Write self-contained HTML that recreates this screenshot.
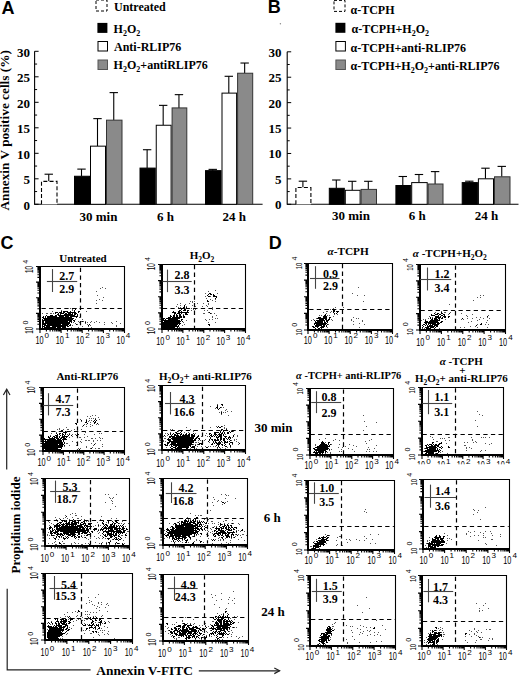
<!DOCTYPE html>
<html><head><meta charset="utf-8"><style>
html,body{margin:0;padding:0;background:#fff;width:520px;height:676px;overflow:hidden}
svg{display:block}
</style></head><body><svg width="520" height="676" viewBox="0 0 520 676"><text x="1.5" y="14.3" font-family="'Liberation Sans', sans-serif" font-size="18" font-weight="bold" text-anchor="start" fill="#000" >A</text><text x="267.8" y="13.2" font-family="'Liberation Sans', sans-serif" font-size="18" font-weight="bold" text-anchor="start" fill="#000" >B</text><text x="0.5" y="249.2" font-family="'Liberation Sans', sans-serif" font-size="18" font-weight="bold" text-anchor="start" fill="#000" >C</text><text x="268.8" y="249.2" font-family="'Liberation Sans', sans-serif" font-size="18" font-weight="bold" text-anchor="start" fill="#000" >D</text><line x1="34.60" y1="51.30" x2="34.60" y2="204.80" stroke="#000" stroke-width="1.1" /><line x1="34.60" y1="204.30" x2="262.60" y2="204.30" stroke="#000" stroke-width="1.1" /><line x1="34.60" y1="204.30" x2="38.60" y2="204.30" stroke="#000" stroke-width="1" /><text x="29.9" y="209.8" font-family="'Liberation Serif', serif" font-size="13" font-weight="bold" text-anchor="end" fill="#000" >0</text><line x1="34.60" y1="191.55" x2="37.10" y2="191.55" stroke="#000" stroke-width="1" /><line x1="34.60" y1="178.80" x2="38.60" y2="178.80" stroke="#000" stroke-width="1" /><text x="29.9" y="184.3" font-family="'Liberation Serif', serif" font-size="13" font-weight="bold" text-anchor="end" fill="#000" >5</text><line x1="34.60" y1="166.05" x2="37.10" y2="166.05" stroke="#000" stroke-width="1" /><line x1="34.60" y1="153.30" x2="38.60" y2="153.30" stroke="#000" stroke-width="1" /><text x="29.9" y="158.8" font-family="'Liberation Serif', serif" font-size="13" font-weight="bold" text-anchor="end" fill="#000" >10</text><line x1="34.60" y1="140.55" x2="37.10" y2="140.55" stroke="#000" stroke-width="1" /><line x1="34.60" y1="127.80" x2="38.60" y2="127.80" stroke="#000" stroke-width="1" /><text x="29.9" y="133.3" font-family="'Liberation Serif', serif" font-size="13" font-weight="bold" text-anchor="end" fill="#000" >15</text><line x1="34.60" y1="115.05" x2="37.10" y2="115.05" stroke="#000" stroke-width="1" /><line x1="34.60" y1="102.30" x2="38.60" y2="102.30" stroke="#000" stroke-width="1" /><text x="29.9" y="107.80000000000001" font-family="'Liberation Serif', serif" font-size="13" font-weight="bold" text-anchor="end" fill="#000" >20</text><line x1="34.60" y1="89.55" x2="37.10" y2="89.55" stroke="#000" stroke-width="1" /><line x1="34.60" y1="76.80" x2="38.60" y2="76.80" stroke="#000" stroke-width="1" /><text x="29.9" y="82.30000000000001" font-family="'Liberation Serif', serif" font-size="13" font-weight="bold" text-anchor="end" fill="#000" >25</text><line x1="34.60" y1="64.05" x2="37.10" y2="64.05" stroke="#000" stroke-width="1" /><line x1="34.60" y1="51.30" x2="38.60" y2="51.30" stroke="#000" stroke-width="1" /><text x="29.9" y="56.80000000000001" font-family="'Liberation Serif', serif" font-size="13" font-weight="bold" text-anchor="end" fill="#000" >30</text><line x1="48.75" y1="174.21" x2="48.75" y2="181.35" stroke="#000" stroke-width="1.1" /><line x1="44.55" y1="174.21" x2="52.95" y2="174.21" stroke="#000" stroke-width="1.1" /><path d="M41.50 204.30V181.35H57.00V204.30" fill="#fff" stroke="#000" stroke-width="1.1" stroke-dasharray="4 2.2"/><line x1="81.50" y1="169.11" x2="81.50" y2="176.25" stroke="#000" stroke-width="1.1" /><line x1="77.30" y1="169.11" x2="85.70" y2="169.11" stroke="#000" stroke-width="1.1" /><rect x="74.50" y="176.25" width="15.00" height="28.05" fill="#000" stroke="#000" stroke-width="1"/><line x1="97.50" y1="118.62" x2="97.50" y2="146.16" stroke="#000" stroke-width="1.1" /><line x1="93.30" y1="118.62" x2="101.70" y2="118.62" stroke="#000" stroke-width="1.1" /><rect x="90.50" y="146.16" width="15.00" height="58.14" fill="#fff" stroke="#000" stroke-width="1"/><line x1="113.75" y1="92.61" x2="113.75" y2="120.15" stroke="#000" stroke-width="1.1" /><line x1="109.55" y1="92.61" x2="117.95" y2="92.61" stroke="#000" stroke-width="1.1" /><rect x="106.50" y="120.15" width="15.50" height="84.15" fill="#8a8a8a" stroke="#333" stroke-width="1"/><line x1="147.12" y1="149.73" x2="147.12" y2="168.09" stroke="#000" stroke-width="1.1" /><line x1="142.93" y1="149.73" x2="151.32" y2="149.73" stroke="#000" stroke-width="1.1" /><rect x="140.00" y="168.09" width="15.25" height="36.21" fill="#000" stroke="#000" stroke-width="1"/><line x1="163.18" y1="105.36" x2="163.18" y2="125.25" stroke="#000" stroke-width="1.1" /><line x1="158.98" y1="105.36" x2="167.38" y2="105.36" stroke="#000" stroke-width="1.1" /><rect x="156.25" y="125.25" width="14.85" height="79.05" fill="#fff" stroke="#000" stroke-width="1"/><line x1="178.95" y1="94.65" x2="178.95" y2="107.91" stroke="#000" stroke-width="1.1" /><line x1="174.75" y1="94.65" x2="183.15" y2="94.65" stroke="#000" stroke-width="1.1" /><rect x="172.10" y="107.91" width="14.70" height="96.39" fill="#8a8a8a" stroke="#333" stroke-width="1"/><line x1="212.75" y1="169.37" x2="212.75" y2="170.64" stroke="#000" stroke-width="1.1" /><line x1="208.55" y1="169.37" x2="216.95" y2="169.37" stroke="#000" stroke-width="1.1" /><rect x="205.50" y="170.64" width="15.50" height="33.66" fill="#000" stroke="#000" stroke-width="1"/><line x1="228.80" y1="76.29" x2="228.80" y2="93.12" stroke="#000" stroke-width="1.1" /><line x1="224.60" y1="76.29" x2="233.00" y2="76.29" stroke="#000" stroke-width="1.1" /><rect x="222.00" y="93.12" width="14.60" height="111.18" fill="#fff" stroke="#000" stroke-width="1"/><line x1="244.65" y1="63.03" x2="244.65" y2="73.23" stroke="#000" stroke-width="1.1" /><line x1="240.45" y1="63.03" x2="248.85" y2="63.03" stroke="#000" stroke-width="1.1" /><rect x="237.60" y="73.23" width="15.10" height="131.07" fill="#8a8a8a" stroke="#333" stroke-width="1"/><text x="98.5" y="221.3" font-family="'Liberation Serif', serif" font-size="13" font-weight="bold" text-anchor="middle" fill="#000" >30 min</text><text x="165.6" y="221.3" font-family="'Liberation Serif', serif" font-size="13" font-weight="bold" text-anchor="middle" fill="#000" >6 h</text><text x="234.3" y="221.3" font-family="'Liberation Serif', serif" font-size="13" font-weight="bold" text-anchor="middle" fill="#000" >24 h</text><rect x="96" y="0" width="11" height="11" fill="#fff" stroke="#000" stroke-width="1" stroke-dasharray="3 2"/><text x="114" y="10.8" font-family="'Liberation Serif', serif" font-size="12" font-weight="bold" text-anchor="start" fill="#000" >Untreated</text><rect x="97.4" y="22.9" width="10" height="10" fill="#000"/><text x="113.6" y="32.7" font-family="'Liberation Serif', serif" font-size="12" font-weight="bold" text-anchor="start" fill="#000" >H<tspan dy="3" font-size="8">2</tspan><tspan dy="-3">O</tspan><tspan dy="3" font-size="8">2</tspan></text><rect x="98.0" y="41.5" width="9.5" height="9.5" fill="#fff" stroke="#000" stroke-width="1"/><text x="114" y="50.8" font-family="'Liberation Serif', serif" font-size="12" font-weight="bold" text-anchor="start" fill="#000" >Anti-RLIP76</text><rect x="98.0" y="60.0" width="9.5" height="9.5" fill="#8a8a8a" stroke="#555" stroke-width="1"/><text x="113.6" y="69" font-family="'Liberation Serif', serif" font-size="12" font-weight="bold" text-anchor="start" fill="#000" >H<tspan dy="3" font-size="8">2</tspan><tspan dy="-3">O</tspan><tspan dy="3" font-size="8">2</tspan><tspan dy="-3">+</tspan>antiRLIP76</text><line x1="287.20" y1="51.80" x2="287.20" y2="204.80" stroke="#000" stroke-width="1.1" /><line x1="287.20" y1="204.30" x2="518.50" y2="204.30" stroke="#000" stroke-width="1.1" /><line x1="287.20" y1="204.30" x2="291.20" y2="204.30" stroke="#000" stroke-width="1" /><text x="281.6" y="209.3" font-family="'Liberation Serif', serif" font-size="13" font-weight="bold" text-anchor="end" fill="#000" >0</text><line x1="287.20" y1="191.59" x2="289.70" y2="191.59" stroke="#000" stroke-width="1" /><line x1="287.20" y1="178.88" x2="291.20" y2="178.88" stroke="#000" stroke-width="1" /><text x="281.6" y="183.88333333333335" font-family="'Liberation Serif', serif" font-size="13" font-weight="bold" text-anchor="end" fill="#000" >5</text><line x1="287.20" y1="166.18" x2="289.70" y2="166.18" stroke="#000" stroke-width="1" /><line x1="287.20" y1="153.47" x2="291.20" y2="153.47" stroke="#000" stroke-width="1" /><text x="281.6" y="158.46666666666667" font-family="'Liberation Serif', serif" font-size="13" font-weight="bold" text-anchor="end" fill="#000" >10</text><line x1="287.20" y1="140.76" x2="289.70" y2="140.76" stroke="#000" stroke-width="1" /><line x1="287.20" y1="128.05" x2="291.20" y2="128.05" stroke="#000" stroke-width="1" /><text x="281.6" y="133.05" font-family="'Liberation Serif', serif" font-size="13" font-weight="bold" text-anchor="end" fill="#000" >15</text><line x1="287.20" y1="115.34" x2="289.70" y2="115.34" stroke="#000" stroke-width="1" /><line x1="287.20" y1="102.63" x2="291.20" y2="102.63" stroke="#000" stroke-width="1" /><text x="281.6" y="107.63333333333334" font-family="'Liberation Serif', serif" font-size="13" font-weight="bold" text-anchor="end" fill="#000" >20</text><line x1="287.20" y1="89.93" x2="289.70" y2="89.93" stroke="#000" stroke-width="1" /><line x1="287.20" y1="77.22" x2="291.20" y2="77.22" stroke="#000" stroke-width="1" /><text x="281.6" y="82.21666666666668" font-family="'Liberation Serif', serif" font-size="13" font-weight="bold" text-anchor="end" fill="#000" >25</text><line x1="287.20" y1="64.51" x2="289.70" y2="64.51" stroke="#000" stroke-width="1" /><line x1="287.20" y1="51.80" x2="291.20" y2="51.80" stroke="#000" stroke-width="1" /><text x="281.6" y="56.80000000000001" font-family="'Liberation Serif', serif" font-size="13" font-weight="bold" text-anchor="end" fill="#000" >30</text><line x1="302.90" y1="181.20" x2="302.90" y2="187.50" stroke="#000" stroke-width="1.1" /><line x1="298.70" y1="181.20" x2="307.10" y2="181.20" stroke="#000" stroke-width="1.1" /><path d="M295.90 204.30V187.50H310.90V204.30" fill="#fff" stroke="#000" stroke-width="1.1" stroke-dasharray="4 2.2"/><line x1="336.30" y1="180.00" x2="336.30" y2="188.30" stroke="#000" stroke-width="1.1" /><line x1="332.10" y1="180.00" x2="340.50" y2="180.00" stroke="#000" stroke-width="1.1" /><rect x="329.30" y="188.30" width="15.00" height="16.00" fill="#000" stroke="#000" stroke-width="1"/><line x1="352.20" y1="181.30" x2="352.20" y2="190.30" stroke="#000" stroke-width="1.1" /><line x1="348.00" y1="181.30" x2="356.40" y2="181.30" stroke="#000" stroke-width="1.1" /><rect x="345.30" y="190.30" width="14.80" height="14.00" fill="#fff" stroke="#000" stroke-width="1"/><line x1="368.30" y1="181.30" x2="368.30" y2="189.40" stroke="#000" stroke-width="1.1" /><line x1="364.10" y1="181.30" x2="372.50" y2="181.30" stroke="#000" stroke-width="1.1" /><rect x="361.10" y="189.40" width="15.40" height="14.90" fill="#8a8a8a" stroke="#333" stroke-width="1"/><line x1="402.80" y1="176.50" x2="402.80" y2="185.50" stroke="#000" stroke-width="1.1" /><line x1="398.60" y1="176.50" x2="407.00" y2="176.50" stroke="#000" stroke-width="1.1" /><rect x="395.90" y="185.50" width="14.80" height="18.80" fill="#000" stroke="#000" stroke-width="1"/><line x1="418.95" y1="174.50" x2="418.95" y2="182.60" stroke="#000" stroke-width="1.1" /><line x1="414.75" y1="174.50" x2="423.15" y2="174.50" stroke="#000" stroke-width="1.1" /><rect x="411.70" y="182.60" width="15.50" height="21.70" fill="#fff" stroke="#000" stroke-width="1"/><line x1="435.10" y1="171.60" x2="435.10" y2="184.00" stroke="#000" stroke-width="1.1" /><line x1="430.90" y1="171.60" x2="439.30" y2="171.60" stroke="#000" stroke-width="1.1" /><rect x="428.20" y="184.00" width="14.80" height="20.30" fill="#8a8a8a" stroke="#333" stroke-width="1"/><line x1="469.30" y1="181.20" x2="469.30" y2="182.60" stroke="#000" stroke-width="1.1" /><line x1="465.10" y1="181.20" x2="473.50" y2="181.20" stroke="#000" stroke-width="1.1" /><rect x="462.20" y="182.60" width="15.20" height="21.70" fill="#000" stroke="#000" stroke-width="1"/><line x1="485.45" y1="168.20" x2="485.45" y2="178.80" stroke="#000" stroke-width="1.1" /><line x1="481.25" y1="168.20" x2="489.65" y2="168.20" stroke="#000" stroke-width="1.1" /><rect x="478.40" y="178.80" width="15.10" height="25.50" fill="#fff" stroke="#000" stroke-width="1"/><line x1="501.75" y1="166.40" x2="501.75" y2="176.80" stroke="#000" stroke-width="1.1" /><line x1="497.55" y1="166.40" x2="505.95" y2="166.40" stroke="#000" stroke-width="1.1" /><rect x="494.50" y="176.80" width="15.50" height="27.50" fill="#8a8a8a" stroke="#333" stroke-width="1"/><text x="351" y="220.4" font-family="'Liberation Serif', serif" font-size="13" font-weight="bold" text-anchor="middle" fill="#000" >30 min</text><text x="417.3" y="220.4" font-family="'Liberation Serif', serif" font-size="13" font-weight="bold" text-anchor="middle" fill="#000" >6 h</text><text x="486.5" y="220.4" font-family="'Liberation Serif', serif" font-size="13" font-weight="bold" text-anchor="middle" fill="#000" >24 h</text><rect x="334" y="0.4" width="11" height="11" fill="#fff" stroke="#000" stroke-width="1" stroke-dasharray="3 2"/><text x="350.5" y="13.5" font-family="'Liberation Serif', serif" font-size="12" font-weight="bold" text-anchor="start" fill="#000" >α-TCPH</text><rect x="335.4" y="22.8" width="10" height="10" fill="#000"/><text x="351.5" y="32.9" font-family="'Liberation Serif', serif" font-size="12" font-weight="bold" text-anchor="start" fill="#000" >α-TCPH+H<tspan dy="3" font-size="8">2</tspan><tspan dy="-3">O</tspan><tspan dy="3" font-size="8">2</tspan></text><rect x="335.9" y="41.5" width="9.5" height="9.5" fill="#fff" stroke="#000" stroke-width="1"/><text x="350.5" y="51.5" font-family="'Liberation Serif', serif" font-size="12" font-weight="bold" text-anchor="start" fill="#000" >α-TCPH+anti-RLIP76</text><rect x="335.9" y="60.0" width="9.5" height="9.5" fill="#8a8a8a" stroke="#555" stroke-width="1"/><text x="350.5" y="70" font-family="'Liberation Serif', serif" font-size="12" font-weight="bold" text-anchor="start" fill="#000" >α-TCPH+H<tspan dy="3" font-size="8">2</tspan><tspan dy="-3">O</tspan><tspan dy="3" font-size="8">2</tspan><tspan dy="-3">+</tspan>anti-RLIP76</text><circle cx="280.4" cy="23.8" r="0.7" fill="#888"/><path transform="translate(0 .5)" d="M75 309h1M74 310h1M61 311h1M63 311h5M70 311h1M74 311h1M78 311h2M55 312h3M59 312h3M63 312h2M67 312h9M78 312h1M55 313h1M58 313h1M60 313h4M65 313h2M68 313h3M72 313h1M74 313h3M57 314h2M60 314h1M64 314h9M74 314h2M77 314h1M46 315h1M50 315h3M55 315h2M58 315h17M77 315h1M43 316h1M45 316h1M47 316h10M59 316h5M65 316h4M70 316h8M42 317h2M45 317h1M47 317h25M76 317h1M43 318h31M42 319h1M44 319h29M42 320h30M73 320h2M42 321h2M45 321h23M69 321h3M74 321h1M82 321h1M42 322h2M45 322h25M71 322h1M85 322h1M42 323h28M42 324h4M47 324h14M62 324h7M70 324h1M76 324h1M89 324h1M42 325h1M44 325h24M69 325h2M88 325h1M42 326h3M46 326h4M52 326h14M67 326h2M42 327h1M44 327h12M57 327h4M62 327h4" stroke="#000" stroke-width="1" fill="none"/><path transform="translate(0 .5)" d="M102 287h1M100 288h1M105 288h1M96 291h1M97 295h1M103 297h1M99 299h1M96 300h1M102 300h1M96 303h1M70 308h1M76 308h1M72 309h1M61 310h1M72 310h1M52 311h1M86 311h1M42 313h1M46 313h2M50 313h2M53 313h1M79 317h1M75 319h1M82 319h1M78 321h1M81 321h1M83 321h1M85 321h1M91 321h1M96 321h1M116 321h1M73 322h1M79 322h1M87 322h1M90 322h1M94 322h1M99 322h1M104 322h1M111 322h1M75 323h1M85 323h1M112 323h1M120 323h1M77 324h1M87 324h1M104 324h1M72 325h1M90 325h1M116 325h1M82 326h1M88 326h1M116 326h1M71 327h1M78 327h1M91 327h1" stroke="#555" stroke-width="1" fill="none"/><path d="M40 266.5H124.5V329" fill="none" stroke="#000" stroke-width="1.1"/><line x1="40.00" y1="266.00" x2="40.00" y2="330.00" stroke="#000" stroke-width="2" /><line x1="39.00" y1="329.00" x2="125.00" y2="329.00" stroke="#000" stroke-width="2" /><path d="M36.0 329.0H40M37.4 324.3H40M37.4 321.5H40M37.4 319.6H40M37.4 318.1H40M37.4 316.8H40M37.4 315.8H40M37.4 314.9H40M37.4 314.1H40M36.0 313.4H40M37.4 308.7H40M37.4 305.9H40M37.4 304.0H40M37.4 302.5H40M37.4 301.2H40M37.4 300.2H40M37.4 299.3H40M37.4 298.5H40M36.0 297.8H40M37.4 293.0H40M37.4 290.3H40M37.4 288.3H40M37.4 286.8H40M37.4 285.6H40M37.4 284.5H40M37.4 283.6H40M37.4 282.8H40M36.0 282.1H40M37.4 277.4H40M37.4 274.7H40M37.4 272.7H40M37.4 271.2H40M37.4 270.0H40M37.4 268.9H40M37.4 268.0H40M37.4 267.2H40M36 266.5H40M40.0 329V333.0M46.4 329V331.6M50.1 329V331.6M52.7 329V331.6M54.8 329V331.6M56.4 329V331.6M57.9 329V331.6M59.1 329V331.6M60.2 329V331.6M61.1 329V333.0M67.5 329V331.6M71.2 329V331.6M73.8 329V331.6M75.9 329V331.6M77.6 329V331.6M79.0 329V331.6M80.2 329V331.6M81.3 329V331.6M82.2 329V333.0M88.6 329V331.6M92.3 329V331.6M95.0 329V331.6M97.0 329V331.6M98.7 329V331.6M100.1 329V331.6M101.3 329V331.6M102.4 329V331.6M103.4 329V333.0M109.7 329V331.6M113.5 329V331.6M116.1 329V331.6M118.1 329V331.6M119.8 329V331.6M121.2 329V331.6M122.5 329V331.6M123.5 329V331.6M124.5 329V333" stroke="#000" stroke-width="1.1" fill="none"/><line x1="80.50" y1="267.80" x2="80.50" y2="327.80" stroke="#000" stroke-width="1.2" stroke-dasharray="4.3 3.3"/><line x1="41.50" y1="308.50" x2="123.50" y2="308.50" stroke="#000" stroke-width="1.2" stroke-dasharray="4.3 3.3"/><line x1="52.50" y1="269.10" x2="52.50" y2="292.00" stroke="#444" stroke-width="1.1" /><line x1="46.90" y1="281.50" x2="77.20" y2="281.50" stroke="#444" stroke-width="1.1" /><text x="74.2" y="279.9" font-family="'Liberation Serif', serif" font-size="12" font-weight="bold" text-anchor="end" fill="#000" >2.7</text><text x="74.2" y="292.7" font-family="'Liberation Serif', serif" font-size="12" font-weight="bold" text-anchor="end" fill="#000" >2.9</text><text x="35.4" y="343.5" font-family="'Liberation Sans', sans-serif" font-size="10" fill="#000" textLength="8.1" lengthAdjust="spacingAndGlyphs">10</text><text x="44.6" y="338.1" font-family="'Liberation Sans', sans-serif" font-size="8" fill="#000" textLength="4.5" lengthAdjust="spacingAndGlyphs">0</text><text x="55.7" y="343.5" font-family="'Liberation Sans', sans-serif" font-size="10" fill="#000" textLength="8.1" lengthAdjust="spacingAndGlyphs">10</text><text x="64.9" y="338.1" font-family="'Liberation Sans', sans-serif" font-size="8" fill="#000" textLength="4.5" lengthAdjust="spacingAndGlyphs">1</text><text x="76.0" y="343.5" font-family="'Liberation Sans', sans-serif" font-size="10" fill="#000" textLength="8.1" lengthAdjust="spacingAndGlyphs">10</text><text x="85.2" y="338.1" font-family="'Liberation Sans', sans-serif" font-size="8" fill="#000" textLength="4.5" lengthAdjust="spacingAndGlyphs">2</text><text x="96.3" y="343.5" font-family="'Liberation Sans', sans-serif" font-size="10" fill="#000" textLength="8.1" lengthAdjust="spacingAndGlyphs">10</text><text x="105.5" y="338.1" font-family="'Liberation Sans', sans-serif" font-size="8" fill="#000" textLength="4.5" lengthAdjust="spacingAndGlyphs">3</text><text x="116.6" y="343.5" font-family="'Liberation Sans', sans-serif" font-size="10" fill="#000" textLength="8.1" lengthAdjust="spacingAndGlyphs">10</text><text x="125.8" y="338.1" font-family="'Liberation Sans', sans-serif" font-size="8" fill="#000" textLength="4.5" lengthAdjust="spacingAndGlyphs">4</text><g transform="translate(33.2,273.0) rotate(-90)"><text x="0" y="0" font-family="'Liberation Sans', sans-serif" font-size="10" fill="#000" textLength="7" lengthAdjust="spacingAndGlyphs">10</text><text x="9.2" y="-5.0" font-family="'Liberation Sans', sans-serif" font-size="8" fill="#000" textLength="4" lengthAdjust="spacingAndGlyphs">4</text></g><g transform="translate(33.2,333.8) rotate(-90)"><text x="0" y="0" font-family="'Liberation Sans', sans-serif" font-size="10" fill="#000" textLength="7" lengthAdjust="spacingAndGlyphs">10</text><text x="9.2" y="-5.0" font-family="'Liberation Sans', sans-serif" font-size="8" fill="#000" textLength="4" lengthAdjust="spacingAndGlyphs">0</text></g><text x="83" y="261.7" font-family="'Liberation Serif', serif" font-size="11" font-weight="bold" text-anchor="middle" fill="#000" >Untreated</text><path transform="translate(0 .5)" d="M209 293h2M208 294h1M210 294h2M213 294h1M207 295h1M213 295h2M208 296h2M213 296h4M216 297h1M215 298h1M207 300h1M207 301h2M184 305h1M184 306h1M183 307h2M186 307h1M182 308h3M181 309h1M184 309h2M179 310h2M183 310h3M187 310h2M173 311h1M178 311h2M181 311h1M187 311h1M172 312h4M178 312h11M209 312h1M174 313h2M177 313h3M181 313h1M185 313h2M210 313h1M174 314h1M176 314h1M179 314h2M185 314h3M170 315h1M173 315h2M176 315h2M179 315h2M183 315h1M170 316h2M173 316h2M176 316h2M179 316h3M183 316h2M168 317h3M172 317h10M183 317h2M163 318h2M166 318h14M163 319h1M165 319h1M168 319h10M181 319h2M163 320h17M181 320h1M164 321h17M182 321h1M163 322h17M163 323h18M163 324h15M179 324h1M208 324h2M163 325h14M178 325h1M209 325h1M163 326h16M163 327h12M177 327h1M163 328h12" stroke="#000" stroke-width="1" fill="none"/><path transform="translate(0 .5)" d="M215 290h1M208 291h1M205 293h1M217 293h1M205 296h1M210 296h1M206 298h1M210 299h1M215 299h1M212 300h1M190 301h1M192 301h1M194 301h1M215 301h1M192 302h1M180 303h1M189 303h1M197 303h1M203 303h1M208 303h1M177 304h1M185 304h1M208 304h1M180 305h1M192 305h1M194 305h1M206 305h1M176 306h1M186 306h1M195 306h1M202 306h1M207 306h1M178 307h1M180 307h1M212 307h1M187 308h1M191 308h1M193 308h1M193 309h1M195 309h1M212 309h1M191 310h1M204 310h1M207 310h1M208 312h1M203 313h2M211 313h1M214 313h1M183 314h1M216 315h1M212 316h1M212 317h1M215 318h1M217 318h1M205 319h1M209 319h1M212 319h1M186 320h1M206 320h1M183 322h1M208 322h1M215 322h1M184 324h1M182 325h1M179 327h1" stroke="#555" stroke-width="1" fill="none"/><path d="M162 264.5H245.5V329" fill="none" stroke="#000" stroke-width="1.1"/><line x1="162.00" y1="264.00" x2="162.00" y2="330.00" stroke="#000" stroke-width="2" /><line x1="161.00" y1="329.00" x2="246.00" y2="329.00" stroke="#000" stroke-width="2" /><path d="M158.0 329.0H162M159.4 324.1H162M159.4 321.3H162M159.4 319.3H162M159.4 317.7H162M159.4 316.5H162M159.4 315.4H162M159.4 314.4H162M159.4 313.6H162M158.0 312.9H162M159.4 308.0H162M159.4 305.2H162M159.4 303.2H162M159.4 301.6H162M159.4 300.3H162M159.4 299.2H162M159.4 298.3H162M159.4 297.5H162M158.0 296.8H162M159.4 291.9H162M159.4 289.1H162M159.4 287.0H162M159.4 285.5H162M159.4 284.2H162M159.4 283.1H162M159.4 282.2H162M159.4 281.4H162M158.0 280.6H162M159.4 275.8H162M159.4 272.9H162M159.4 270.9H162M159.4 269.4H162M159.4 268.1H162M159.4 267.0H162M159.4 266.1H162M159.4 265.2H162M158 264.5H162M162.0 329V333.0M168.3 329V331.6M172.0 329V331.6M174.6 329V331.6M176.6 329V331.6M178.2 329V331.6M179.6 329V331.6M180.9 329V331.6M181.9 329V331.6M182.9 329V333.0M189.2 329V331.6M192.8 329V331.6M195.4 329V331.6M197.5 329V331.6M199.1 329V331.6M200.5 329V331.6M201.7 329V331.6M202.8 329V331.6M203.8 329V333.0M210.0 329V331.6M213.7 329V331.6M216.3 329V331.6M218.3 329V331.6M220.0 329V331.6M221.4 329V331.6M222.6 329V331.6M223.7 329V331.6M224.6 329V333.0M230.9 329V331.6M234.6 329V331.6M237.2 329V331.6M239.2 329V331.6M240.9 329V331.6M242.3 329V331.6M243.5 329V331.6M244.5 329V331.6M245.5 329V333" stroke="#000" stroke-width="1.1" fill="none"/><line x1="194.50" y1="265.00" x2="194.50" y2="328.20" stroke="#000" stroke-width="1.2" stroke-dasharray="4.3 3.3"/><line x1="162.80" y1="308.50" x2="244.00" y2="308.50" stroke="#000" stroke-width="1.2" stroke-dasharray="4.3 3.3"/><line x1="167.50" y1="269.60" x2="167.50" y2="292.10" stroke="#444" stroke-width="1.1" /><line x1="162.50" y1="281.50" x2="191.70" y2="281.50" stroke="#444" stroke-width="1.1" /><text x="189.5" y="279.4" font-family="'Liberation Serif', serif" font-size="12" font-weight="bold" text-anchor="end" fill="#000" >2.8</text><text x="189.5" y="294.2" font-family="'Liberation Serif', serif" font-size="12" font-weight="bold" text-anchor="end" fill="#000" >3.3</text><text x="156.3" y="345.1" font-family="'Liberation Sans', sans-serif" font-size="10" fill="#000" textLength="8.1" lengthAdjust="spacingAndGlyphs">10</text><text x="165.5" y="339.7" font-family="'Liberation Sans', sans-serif" font-size="8" fill="#000" textLength="4.5" lengthAdjust="spacingAndGlyphs">0</text><text x="176.4" y="345.1" font-family="'Liberation Sans', sans-serif" font-size="10" fill="#000" textLength="8.1" lengthAdjust="spacingAndGlyphs">10</text><text x="185.6" y="339.7" font-family="'Liberation Sans', sans-serif" font-size="8" fill="#000" textLength="4.5" lengthAdjust="spacingAndGlyphs">1</text><text x="196.5" y="345.1" font-family="'Liberation Sans', sans-serif" font-size="10" fill="#000" textLength="8.1" lengthAdjust="spacingAndGlyphs">10</text><text x="205.7" y="339.7" font-family="'Liberation Sans', sans-serif" font-size="8" fill="#000" textLength="4.5" lengthAdjust="spacingAndGlyphs">2</text><text x="216.6" y="345.1" font-family="'Liberation Sans', sans-serif" font-size="10" fill="#000" textLength="8.1" lengthAdjust="spacingAndGlyphs">10</text><text x="225.8" y="339.7" font-family="'Liberation Sans', sans-serif" font-size="8" fill="#000" textLength="4.5" lengthAdjust="spacingAndGlyphs">3</text><text x="236.7" y="345.1" font-family="'Liberation Sans', sans-serif" font-size="10" fill="#000" textLength="8.1" lengthAdjust="spacingAndGlyphs">10</text><text x="245.9" y="339.7" font-family="'Liberation Sans', sans-serif" font-size="8" fill="#000" textLength="4.5" lengthAdjust="spacingAndGlyphs">4</text><g transform="translate(154.5,270.2) rotate(-90)"><text x="0" y="0" font-family="'Liberation Sans', sans-serif" font-size="10" fill="#000" textLength="7" lengthAdjust="spacingAndGlyphs">10</text><text x="9.2" y="-5.0" font-family="'Liberation Sans', sans-serif" font-size="8" fill="#000" textLength="4" lengthAdjust="spacingAndGlyphs">4</text></g><g transform="translate(154.5,334.2) rotate(-90)"><text x="0" y="0" font-family="'Liberation Sans', sans-serif" font-size="10" fill="#000" textLength="7" lengthAdjust="spacingAndGlyphs">10</text><text x="9.2" y="-5.0" font-family="'Liberation Sans', sans-serif" font-size="8" fill="#000" textLength="4" lengthAdjust="spacingAndGlyphs">0</text></g><text x="202" y="259" font-family="'Liberation Serif', serif" font-size="11" font-weight="bold" text-anchor="middle" fill="#000" >H<tspan dy="3" font-size="7.5">2</tspan><tspan dy="-3">O</tspan><tspan dy="3" font-size="7.5">2</tspan></text><path transform="translate(0 .5)" d="M95 419h1M81 420h1M86 420h1M94 420h1M96 420h1M86 421h1M93 421h1M95 421h1M85 422h2M94 422h2M75 423h2M87 423h1M94 423h1M97 423h1M76 424h1M83 425h1M61 430h2M65 431h1M63 432h4M56 433h1M59 433h2M62 433h1M65 433h1M77 433h1M57 434h1M59 434h1M62 434h2M65 434h1M69 434h1M78 434h1M55 435h3M60 435h1M62 435h1M64 435h1M68 435h1M71 435h1M76 435h2M48 436h1M50 436h1M53 436h2M56 436h2M59 436h1M62 436h6M48 437h2M52 437h1M54 437h4M59 437h1M61 437h4M66 437h1M44 438h1M49 438h6M56 438h3M60 438h2M63 438h3M44 439h12M57 439h4M62 439h5M45 440h1M47 440h15M63 440h1M44 441h18M63 441h1M45 442h18M64 442h1M44 443h19M64 443h1M44 444h14M59 444h5M94 444h1M44 445h19M64 445h1M44 446h19M44 447h18M44 448h14M61 448h1M91 448h1M45 449h16M79 449h1" stroke="#000" stroke-width="1" fill="none"/><path transform="translate(0 .5)" d="M92 415h1M95 415h1M87 416h1M90 416h1M98 417h1M89 418h1M91 418h1M93 418h1M95 418h1M80 419h1M86 419h1M99 419h1M89 420h1M91 420h1M81 421h1M88 421h1M90 422h1M84 424h1M86 424h1M90 424h1M96 424h1M98 424h1M92 425h1M82 426h1M86 426h1M90 426h1M66 427h1M59 428h1M57 429h1M59 429h1M63 429h1M67 429h2M74 429h1M81 429h1M71 430h1M60 431h1M68 431h2M56 432h1M77 432h1M85 432h1M51 433h1M69 433h1M99 433h1M101 433h1M67 434h1M72 434h1M75 434h1M84 434h1M94 434h1M50 435h1M72 436h1M87 436h1M69 437h1M79 437h2M84 437h1M99 437h1M91 438h2M95 438h1M100 438h1M102 438h1M81 439h1M85 440h2M88 440h2M93 440h1M97 440h1M100 440h1M72 441h1M80 441h1M93 441h1M76 442h2M81 442h1M66 443h2M91 443h1M95 443h1M102 444h1M69 445h1M76 445h1M93 445h1M64 446h1M86 446h1M102 446h1M86 447h1M92 447h1M78 448h1M80 448h1M90 448h1M95 448h1M98 448h2" stroke="#555" stroke-width="1" fill="none"/><path d="M43 387.5H124.5V451" fill="none" stroke="#000" stroke-width="1.1"/><line x1="43.00" y1="387.00" x2="43.00" y2="452.00" stroke="#000" stroke-width="2" /><line x1="42.00" y1="451.00" x2="125.00" y2="451.00" stroke="#000" stroke-width="2" /><path d="M39.0 451.0H43M40.4 446.2H43M40.4 443.4H43M40.4 441.4H43M40.4 439.9H43M40.4 438.6H43M40.4 437.6H43M40.4 436.7H43M40.4 435.9H43M39.0 435.1H43M40.4 430.3H43M40.4 427.6H43M40.4 425.6H43M40.4 424.0H43M40.4 422.8H43M40.4 421.7H43M40.4 420.8H43M40.4 420.0H43M39.0 419.2H43M40.4 414.5H43M40.4 411.7H43M40.4 409.7H43M40.4 408.2H43M40.4 406.9H43M40.4 405.8H43M40.4 404.9H43M40.4 404.1H43M39.0 403.4H43M40.4 398.6H43M40.4 395.8H43M40.4 393.8H43M40.4 392.3H43M40.4 391.0H43M40.4 390.0H43M40.4 389.0H43M40.4 388.2H43M39 387.5H43M43.0 451V455.0M49.1 451V453.6M52.7 451V453.6M55.3 451V453.6M57.2 451V453.6M58.9 451V453.6M60.2 451V453.6M61.4 451V453.6M62.4 451V453.6M63.4 451V455.0M69.5 451V453.6M73.1 451V453.6M75.6 451V453.6M77.6 451V453.6M79.2 451V453.6M80.6 451V453.6M81.8 451V453.6M82.8 451V453.6M83.8 451V455.0M89.9 451V453.6M93.5 451V453.6M96.0 451V453.6M98.0 451V453.6M99.6 451V453.6M101.0 451V453.6M102.2 451V453.6M103.2 451V453.6M104.1 451V455.0M110.3 451V453.6M113.8 451V453.6M116.4 451V453.6M118.4 451V453.6M120.0 451V453.6M121.3 451V453.6M122.5 451V453.6M123.6 451V453.6M124.5 451V455" stroke="#000" stroke-width="1.1" fill="none"/><line x1="77.50" y1="388.40" x2="77.50" y2="450.00" stroke="#000" stroke-width="1.2" stroke-dasharray="4.3 3.3"/><line x1="43.60" y1="431.50" x2="123.30" y2="431.50" stroke="#000" stroke-width="1.2" stroke-dasharray="4.3 3.3"/><line x1="48.50" y1="393.20" x2="48.50" y2="415.40" stroke="#444" stroke-width="1.1" /><line x1="42.90" y1="405.50" x2="73.20" y2="405.50" stroke="#444" stroke-width="1.1" /><text x="70.5" y="402.6" font-family="'Liberation Serif', serif" font-size="12" font-weight="bold" text-anchor="end" fill="#000" >4.7</text><text x="70.5" y="416" font-family="'Liberation Serif', serif" font-size="12" font-weight="bold" text-anchor="end" fill="#000" >7.3</text><text x="37.4" y="466.0" font-family="'Liberation Sans', sans-serif" font-size="10" fill="#000" textLength="8.1" lengthAdjust="spacingAndGlyphs">10</text><text x="46.6" y="460.6" font-family="'Liberation Sans', sans-serif" font-size="8" fill="#000" textLength="4.5" lengthAdjust="spacingAndGlyphs">0</text><text x="57.1" y="466.0" font-family="'Liberation Sans', sans-serif" font-size="10" fill="#000" textLength="8.1" lengthAdjust="spacingAndGlyphs">10</text><text x="66.3" y="460.6" font-family="'Liberation Sans', sans-serif" font-size="8" fill="#000" textLength="4.5" lengthAdjust="spacingAndGlyphs">1</text><text x="76.8" y="466.0" font-family="'Liberation Sans', sans-serif" font-size="10" fill="#000" textLength="8.1" lengthAdjust="spacingAndGlyphs">10</text><text x="86.0" y="460.6" font-family="'Liberation Sans', sans-serif" font-size="8" fill="#000" textLength="4.5" lengthAdjust="spacingAndGlyphs">2</text><text x="96.6" y="466.0" font-family="'Liberation Sans', sans-serif" font-size="10" fill="#000" textLength="8.1" lengthAdjust="spacingAndGlyphs">10</text><text x="105.8" y="460.6" font-family="'Liberation Sans', sans-serif" font-size="8" fill="#000" textLength="4.5" lengthAdjust="spacingAndGlyphs">3</text><text x="116.3" y="466.0" font-family="'Liberation Sans', sans-serif" font-size="10" fill="#000" textLength="8.1" lengthAdjust="spacingAndGlyphs">10</text><text x="125.5" y="460.6" font-family="'Liberation Sans', sans-serif" font-size="8" fill="#000" textLength="4.5" lengthAdjust="spacingAndGlyphs">4</text><g transform="translate(35.3,393.6) rotate(-90)"><text x="0" y="0" font-family="'Liberation Sans', sans-serif" font-size="10" fill="#000" textLength="7" lengthAdjust="spacingAndGlyphs">10</text><text x="9.2" y="-5.0" font-family="'Liberation Sans', sans-serif" font-size="8" fill="#000" textLength="4" lengthAdjust="spacingAndGlyphs">4</text></g><g transform="translate(35.3,456.0) rotate(-90)"><text x="0" y="0" font-family="'Liberation Sans', sans-serif" font-size="10" fill="#000" textLength="7" lengthAdjust="spacingAndGlyphs">10</text><text x="9.2" y="-5.0" font-family="'Liberation Sans', sans-serif" font-size="8" fill="#000" textLength="4" lengthAdjust="spacingAndGlyphs">0</text></g><text x="87.3" y="380.4" font-family="'Liberation Serif', serif" font-size="11" font-weight="bold" text-anchor="middle" fill="#000" >Anti-RLIP76</text><path transform="translate(0 .5)" d="M221 404h2M217 405h1M222 405h1M217 406h1M216 407h2M220 407h1M217 408h1M219 408h1M218 409h1M221 412h1M221 413h1M218 426h1M221 426h1M217 427h1M219 427h2M221 429h2M226 429h1M221 430h1M223 430h1M177 431h1M181 431h1M220 431h1M223 431h1M229 431h1M231 431h2M175 432h2M180 432h1M214 432h5M220 432h1M222 432h1M224 432h1M227 432h2M230 432h1M170 433h1M173 433h1M176 433h4M181 433h1M186 433h1M189 433h1M193 433h1M209 433h2M214 433h2M219 433h1M221 433h2M224 433h1M227 433h2M168 434h1M170 434h1M172 434h1M174 434h2M177 434h1M180 434h2M183 434h1M185 434h2M188 434h2M191 434h2M194 434h1M209 434h1M211 434h1M214 434h3M218 434h4M223 434h1M164 435h1M171 435h1M174 435h5M180 435h1M182 435h8M191 435h4M198 435h1M210 435h2M213 435h1M215 435h1M217 435h1M219 435h3M223 435h1M233 435h1M169 436h6M176 436h14M191 436h4M197 436h2M209 436h1M211 436h2M214 436h1M216 436h1M218 436h4M224 436h3M229 436h1M233 436h1M169 437h2M172 437h22M196 437h2M210 437h1M216 437h3M220 437h2M225 437h1M228 437h3M168 438h1M171 438h23M195 438h2M198 438h2M210 438h1M217 438h1M220 438h2M223 438h2M226 438h1M228 438h1M230 438h1M167 439h4M172 439h21M194 439h2M199 439h1M209 439h1M211 439h2M214 439h2M217 439h2M220 439h2M223 439h2M227 439h1M229 439h1M168 440h3M173 440h23M209 440h1M212 440h1M214 440h5M220 440h1M223 440h2M230 440h1M169 441h25M208 441h1M213 441h1M215 441h1M219 441h1M221 441h1M224 441h2M227 441h1M229 441h1M167 442h3M171 442h23M213 442h1M215 442h2M218 442h3M224 442h4M230 442h3M167 443h2M171 443h5M177 443h15M199 443h3M212 443h1M214 443h1M216 443h5M224 443h1M229 443h1M232 443h1M239 443h1M164 444h2M167 444h1M170 444h23M198 444h2M201 444h2M211 444h2M217 444h3M221 444h2M225 444h1M229 444h1M165 445h3M171 445h1M173 445h18M195 445h1M216 445h1M218 445h1M222 445h1M224 445h1M230 445h1M171 446h2M175 446h2M178 446h11M190 446h1M192 446h3M218 446h1M225 446h2M230 446h1M170 447h1M173 447h3M177 447h12M191 447h4M206 447h2M217 447h1M219 447h1M171 448h2M175 448h7M186 448h2M194 448h1M171 449h1M175 449h2M178 449h1M180 449h4M186 449h1" stroke="#000" stroke-width="1" fill="none"/><path transform="translate(0 .5)" d="M217 404h1M210 406h1M221 407h1M223 407h1M215 408h1M226 409h1M225 410h1M221 411h1M227 411h1M231 411h1M219 412h1M223 412h1M225 412h1M221 414h1M228 415h1M224 425h1M216 426h1M222 426h1M186 427h1M210 427h1M224 427h1M224 428h1M226 428h1M170 429h1M172 429h1M190 429h1M180 430h1M182 430h1M197 430h1M217 430h1M219 430h1M225 430h1M227 430h1M178 431h1M193 431h1M233 431h1M170 432h1M184 432h1M188 432h1M165 433h1M167 433h1M195 433h1M206 433h1M225 434h1M234 434h1M167 435h1M205 435h1M237 435h1M163 436h1M165 436h1M201 436h1M207 436h1M237 436h1M232 437h1M164 438h2M205 439h1M234 439h1M236 439h1M163 440h1M198 440h1M200 440h1M204 440h1M231 440h1M234 440h1M163 441h1M165 441h1M236 441h1M195 442h2M198 442h1M209 442h1M222 442h1M238 442h1M193 444h1M195 444h1M197 444h1M232 444h1M238 444h1M169 445h1M197 446h1M201 446h1M205 446h1M208 446h1M210 446h1M213 446h1M215 446h1M166 447h1M222 447h1M227 447h1M230 447h1M190 448h1M196 448h1M217 448h1M220 448h1M225 448h1M168 449h2M184 449h1M203 449h1M205 449h1M227 449h1" stroke="#555" stroke-width="1" fill="none"/><path d="M162 385.5H245.5V450" fill="none" stroke="#000" stroke-width="1.1"/><line x1="162.00" y1="385.00" x2="162.00" y2="451.00" stroke="#000" stroke-width="2" /><line x1="161.00" y1="450.00" x2="246.00" y2="450.00" stroke="#000" stroke-width="2" /><path d="M158.0 450.0H162M159.4 445.1H162M159.4 442.3H162M159.4 440.3H162M159.4 438.7H162M159.4 437.5H162M159.4 436.4H162M159.4 435.4H162M159.4 434.6H162M158.0 433.9H162M159.4 429.0H162M159.4 426.2H162M159.4 424.2H162M159.4 422.6H162M159.4 421.3H162M159.4 420.2H162M159.4 419.3H162M159.4 418.5H162M158.0 417.8H162M159.4 412.9H162M159.4 410.1H162M159.4 408.0H162M159.4 406.5H162M159.4 405.2H162M159.4 404.1H162M159.4 403.2H162M159.4 402.4H162M158.0 401.6H162M159.4 396.8H162M159.4 393.9H162M159.4 391.9H162M159.4 390.4H162M159.4 389.1H162M159.4 388.0H162M159.4 387.1H162M159.4 386.2H162M158 385.5H162M162.0 450V454.0M168.3 450V452.6M172.0 450V452.6M174.6 450V452.6M176.6 450V452.6M178.2 450V452.6M179.6 450V452.6M180.9 450V452.6M181.9 450V452.6M182.9 450V454.0M189.2 450V452.6M192.8 450V452.6M195.4 450V452.6M197.5 450V452.6M199.1 450V452.6M200.5 450V452.6M201.7 450V452.6M202.8 450V452.6M203.8 450V454.0M210.0 450V452.6M213.7 450V452.6M216.3 450V452.6M218.3 450V452.6M220.0 450V452.6M221.4 450V452.6M222.6 450V452.6M223.7 450V452.6M224.6 450V454.0M230.9 450V452.6M234.6 450V452.6M237.2 450V452.6M239.2 450V452.6M240.9 450V452.6M242.3 450V452.6M243.5 450V452.6M244.5 450V452.6M245.5 450V454" stroke="#000" stroke-width="1.1" fill="none"/><line x1="202.50" y1="386.80" x2="202.50" y2="449.50" stroke="#000" stroke-width="1.2" stroke-dasharray="4.3 3.3"/><line x1="163.00" y1="430.50" x2="244.50" y2="430.50" stroke="#000" stroke-width="1.2" stroke-dasharray="4.3 3.3"/><line x1="170.50" y1="392.00" x2="170.50" y2="414.50" stroke="#444" stroke-width="1.1" /><line x1="165.00" y1="403.50" x2="195.50" y2="403.50" stroke="#444" stroke-width="1.1" /><text x="194.5" y="402.5" font-family="'Liberation Serif', serif" font-size="12" font-weight="bold" text-anchor="end" fill="#000" >4.3</text><text x="194.5" y="416" font-family="'Liberation Serif', serif" font-size="12" font-weight="bold" text-anchor="end" fill="#000" >16.6</text><text x="156.3" y="466.6" font-family="'Liberation Sans', sans-serif" font-size="10" fill="#000" textLength="8.1" lengthAdjust="spacingAndGlyphs">10</text><text x="165.5" y="461.2" font-family="'Liberation Sans', sans-serif" font-size="8" fill="#000" textLength="4.5" lengthAdjust="spacingAndGlyphs">0</text><text x="176.5" y="466.6" font-family="'Liberation Sans', sans-serif" font-size="10" fill="#000" textLength="8.1" lengthAdjust="spacingAndGlyphs">10</text><text x="185.7" y="461.2" font-family="'Liberation Sans', sans-serif" font-size="8" fill="#000" textLength="4.5" lengthAdjust="spacingAndGlyphs">1</text><text x="196.7" y="466.6" font-family="'Liberation Sans', sans-serif" font-size="10" fill="#000" textLength="8.1" lengthAdjust="spacingAndGlyphs">10</text><text x="205.8" y="461.2" font-family="'Liberation Sans', sans-serif" font-size="8" fill="#000" textLength="4.5" lengthAdjust="spacingAndGlyphs">2</text><text x="216.8" y="466.6" font-family="'Liberation Sans', sans-serif" font-size="10" fill="#000" textLength="8.1" lengthAdjust="spacingAndGlyphs">10</text><text x="226.0" y="461.2" font-family="'Liberation Sans', sans-serif" font-size="8" fill="#000" textLength="4.5" lengthAdjust="spacingAndGlyphs">3</text><text x="237.0" y="466.6" font-family="'Liberation Sans', sans-serif" font-size="10" fill="#000" textLength="8.1" lengthAdjust="spacingAndGlyphs">10</text><text x="246.2" y="461.2" font-family="'Liberation Sans', sans-serif" font-size="8" fill="#000" textLength="4.5" lengthAdjust="spacingAndGlyphs">4</text><g transform="translate(154.7,392.0) rotate(-90)"><text x="0" y="0" font-family="'Liberation Sans', sans-serif" font-size="10" fill="#000" textLength="7" lengthAdjust="spacingAndGlyphs">10</text><text x="9.2" y="-5.0" font-family="'Liberation Sans', sans-serif" font-size="8" fill="#000" textLength="4" lengthAdjust="spacingAndGlyphs">4</text></g><g transform="translate(154.7,455.5) rotate(-90)"><text x="0" y="0" font-family="'Liberation Sans', sans-serif" font-size="10" fill="#000" textLength="7" lengthAdjust="spacingAndGlyphs">10</text><text x="9.2" y="-5.0" font-family="'Liberation Sans', sans-serif" font-size="8" fill="#000" textLength="4" lengthAdjust="spacingAndGlyphs">0</text></g><text x="205.4" y="379.5" font-family="'Liberation Serif', serif" font-size="11" font-weight="bold" text-anchor="middle" fill="#000" >H<tspan dy="3" font-size="7.5">2</tspan><tspan dy="-3">O</tspan><tspan dy="3" font-size="7.5">2</tspan><tspan dy="-3">+</tspan> anti-RLIP76</text><path transform="translate(0 .5)" d="M66 516h1M60 519h1M73 519h1M57 520h1M61 520h1M63 520h1M66 520h1M71 520h2M74 520h2M79 520h2M84 520h1M108 520h2M115 520h1M62 521h1M64 521h3M69 521h1M72 521h4M78 521h1M83 521h2M103 521h1M108 521h1M112 521h1M115 521h2M59 522h3M66 522h1M68 522h2M71 522h2M74 522h5M81 522h2M84 522h1M102 522h1M108 522h1M113 522h1M116 522h2M57 523h2M60 523h1M63 523h1M65 523h5M71 523h6M78 523h1M80 523h1M83 523h3M88 523h4M102 523h2M112 523h1M114 523h2M118 523h1M56 524h2M59 524h1M61 524h4M66 524h11M80 524h4M85 524h1M88 524h3M103 524h1M105 524h2M110 524h3M114 524h1M123 524h1M54 525h7M62 525h2M65 525h3M69 525h1M71 525h3M75 525h1M77 525h5M84 525h4M90 525h1M98 525h1M104 525h1M106 525h2M110 525h2M113 525h2M116 525h1M118 525h1M120 525h1M122 525h1M50 526h1M54 526h6M61 526h22M84 526h1M86 526h4M91 526h1M103 526h1M105 526h1M107 526h1M109 526h6M116 526h2M119 526h1M121 526h1M123 526h1M49 527h3M54 527h1M56 527h2M59 527h19M79 527h5M85 527h1M87 527h1M90 527h1M102 527h1M104 527h3M108 527h9M119 527h1M122 527h2M49 528h2M52 528h1M56 528h25M82 528h3M86 528h2M89 528h2M94 528h3M101 528h1M103 528h10M114 528h7M122 528h3M126 528h1M49 529h1M52 529h1M54 529h1M56 529h29M86 529h3M93 529h4M100 529h4M106 529h1M108 529h1M110 529h3M114 529h4M119 529h1M121 529h3M126 529h2M50 530h1M52 530h2M55 530h1M57 530h32M94 530h1M98 530h1M100 530h1M102 530h1M105 530h1M108 530h6M116 530h5M123 530h3M50 531h3M55 531h4M60 531h16M77 531h9M87 531h2M91 531h2M103 531h19M123 531h2M50 532h2M53 532h5M63 532h17M82 532h6M89 532h1M92 532h1M103 532h1M106 532h3M111 532h1M113 532h2M116 532h9M50 533h3M54 533h2M57 533h2M60 533h2M63 533h6M70 533h5M78 533h2M81 533h2M84 533h3M90 533h1M102 533h1M107 533h5M113 533h1M115 533h2M118 533h1M120 533h1M122 533h1M51 534h1M56 534h7M64 534h1M66 534h10M78 534h2M87 534h3M103 534h1M105 534h1M107 534h7M115 534h2M119 534h1M125 534h1M51 535h3M57 535h1M60 535h1M62 535h2M68 535h3M72 535h3M77 535h1M86 535h2M104 535h2M107 535h1M109 535h3M113 535h4M118 535h1M125 535h2M56 536h1M58 536h2M61 536h1M67 536h1M71 536h2M74 536h2M78 536h2M81 536h1M105 536h2M110 536h3M114 536h1M118 536h2M56 537h1M59 537h1M63 537h1M66 537h1M68 537h1M74 537h1M76 537h1M78 537h2M85 537h1M103 537h1M110 537h2M115 537h2M120 537h1M54 538h2M63 538h3M67 538h1M75 538h1M107 538h3M114 538h1M116 538h1M118 538h1M121 538h1M55 539h1M64 539h1M108 539h1M113 539h1M115 539h3M119 539h2M118 540h1M110 541h1M59 542h1M108 542h2M116 542h1M59 543h2M101 543h1M106 543h1M109 543h1M115 543h1M117 543h2M122 543h1M89 544h1M122 544h2" stroke="#000" stroke-width="1" fill="none"/><path transform="translate(0 .5)" d="M105 494h1M108 494h1M116 494h1M109 497h1M113 497h1M110 498h1M112 498h1M111 500h1M112 501h1M105 502h1M112 503h1M115 506h1M110 509h1M72 513h1M75 513h1M70 514h1M65 515h1M75 515h2M81 516h1M101 516h1M55 517h1M65 517h1M72 517h1M59 518h1M63 518h1M67 518h1M77 518h2M111 518h1M116 518h1M56 519h1M69 519h1M81 519h1M84 519h1M100 519h1M103 520h1M111 520h1M48 521h1M57 521h1M86 521h1M88 521h1M122 521h1M49 522h1M97 522h1M106 522h1M51 523h1M108 523h1M119 523h1M121 523h1M124 523h1M128 523h1M53 524h1M98 524h1M49 525h1M95 525h1M100 525h1M93 526h1M98 526h1M125 526h1M47 528h1M98 529h1M97 531h1M127 531h2M48 532h1M99 532h1M98 533h1M126 533h1M47 534h1M47 535h1M49 535h1M54 535h1M81 535h1M84 535h1M90 535h1M100 535h1M121 535h2M65 536h1M94 536h1M102 536h1M53 537h1M61 537h1M82 537h1M84 537h1M98 537h1M125 537h1M49 538h1M86 538h1M90 538h1M96 538h1M99 538h1M102 538h1M105 538h1M58 539h1M78 539h1M88 539h1M112 539h1M110 540h1M123 540h1M55 541h1M62 541h1M54 542h1M74 542h1M95 542h1M102 542h1M106 542h1M48 543h1M52 543h1M63 543h2M71 543h1M75 543h1M78 543h1M85 543h1M88 543h1M90 543h1M99 543h1M119 543h1M124 543h1M55 544h2M61 544h1M71 544h1M81 544h2M101 544h1M106 544h1M109 544h1M115 544h1" stroke="#555" stroke-width="1" fill="none"/><path d="M45 478.5H129.5V546" fill="none" stroke="#000" stroke-width="1.1"/><line x1="45.00" y1="478.00" x2="45.00" y2="547.00" stroke="#000" stroke-width="2" /><line x1="44.00" y1="546.00" x2="130.00" y2="546.00" stroke="#000" stroke-width="2" /><path d="M41.0 546.0H45M42.4 540.9H45M42.4 537.9H45M42.4 535.8H45M42.4 534.2H45M42.4 532.9H45M42.4 531.7H45M42.4 530.8H45M42.4 529.9H45M41.0 529.1H45M42.4 524.0H45M42.4 521.1H45M42.4 519.0H45M42.4 517.3H45M42.4 516.0H45M42.4 514.9H45M42.4 513.9H45M42.4 513.0H45M41.0 512.2H45M42.4 507.2H45M42.4 504.2H45M42.4 502.1H45M42.4 500.5H45M42.4 499.1H45M42.4 498.0H45M42.4 497.0H45M42.4 496.1H45M41.0 495.4H45M42.4 490.3H45M42.4 487.3H45M42.4 485.2H45M42.4 483.6H45M42.4 482.2H45M42.4 481.1H45M42.4 480.1H45M42.4 479.3H45M41 478.5H45M45.0 546V550.0M51.4 546V548.6M55.1 546V548.6M57.7 546V548.6M59.8 546V548.6M61.4 546V548.6M62.9 546V548.6M64.1 546V548.6M65.2 546V548.6M66.1 546V550.0M72.5 546V548.6M76.2 546V548.6M78.8 546V548.6M80.9 546V548.6M82.6 546V548.6M84.0 546V548.6M85.2 546V548.6M86.3 546V548.6M87.2 546V550.0M93.6 546V548.6M97.3 546V548.6M100.0 546V548.6M102.0 546V548.6M103.7 546V548.6M105.1 546V548.6M106.3 546V548.6M107.4 546V548.6M108.4 546V550.0M114.7 546V548.6M118.5 546V548.6M121.1 546V548.6M123.1 546V548.6M124.8 546V548.6M126.2 546V548.6M127.5 546V548.6M128.5 546V548.6M129.5 546V550" stroke="#000" stroke-width="1.1" fill="none"/><line x1="90.50" y1="479.90" x2="90.50" y2="544.70" stroke="#000" stroke-width="1.2" stroke-dasharray="4.3 3.3"/><line x1="46.20" y1="520.50" x2="128.40" y2="520.50" stroke="#000" stroke-width="1.2" stroke-dasharray="4.3 3.3"/><line x1="55.50" y1="480.60" x2="55.50" y2="502.80" stroke="#444" stroke-width="1.1" /><line x1="50.10" y1="491.50" x2="80.30" y2="491.50" stroke="#444" stroke-width="1.1" /><text x="77.6" y="491.2" font-family="'Liberation Serif', serif" font-size="12" font-weight="bold" text-anchor="end" fill="#000" >5.3</text><text x="77.6" y="503.4" font-family="'Liberation Serif', serif" font-size="12" font-weight="bold" text-anchor="end" fill="#000" >18.7</text><text x="40.6" y="562.2" font-family="'Liberation Sans', sans-serif" font-size="10" fill="#000" textLength="8.1" lengthAdjust="spacingAndGlyphs">10</text><text x="49.8" y="556.8" font-family="'Liberation Sans', sans-serif" font-size="8" fill="#000" textLength="4.5" lengthAdjust="spacingAndGlyphs">0</text><text x="61.0" y="562.2" font-family="'Liberation Sans', sans-serif" font-size="10" fill="#000" textLength="8.1" lengthAdjust="spacingAndGlyphs">10</text><text x="70.2" y="556.8" font-family="'Liberation Sans', sans-serif" font-size="8" fill="#000" textLength="4.5" lengthAdjust="spacingAndGlyphs">1</text><text x="81.3" y="562.2" font-family="'Liberation Sans', sans-serif" font-size="10" fill="#000" textLength="8.1" lengthAdjust="spacingAndGlyphs">10</text><text x="90.5" y="556.8" font-family="'Liberation Sans', sans-serif" font-size="8" fill="#000" textLength="4.5" lengthAdjust="spacingAndGlyphs">2</text><text x="101.7" y="562.2" font-family="'Liberation Sans', sans-serif" font-size="10" fill="#000" textLength="8.1" lengthAdjust="spacingAndGlyphs">10</text><text x="110.9" y="556.8" font-family="'Liberation Sans', sans-serif" font-size="8" fill="#000" textLength="4.5" lengthAdjust="spacingAndGlyphs">3</text><text x="122.0" y="562.2" font-family="'Liberation Sans', sans-serif" font-size="10" fill="#000" textLength="8.1" lengthAdjust="spacingAndGlyphs">10</text><text x="131.2" y="556.8" font-family="'Liberation Sans', sans-serif" font-size="8" fill="#000" textLength="4.5" lengthAdjust="spacingAndGlyphs">4</text><g transform="translate(37.9,485.1) rotate(-90)"><text x="0" y="0" font-family="'Liberation Sans', sans-serif" font-size="10" fill="#000" textLength="7" lengthAdjust="spacingAndGlyphs">10</text><text x="9.2" y="-5.0" font-family="'Liberation Sans', sans-serif" font-size="8" fill="#000" textLength="4" lengthAdjust="spacingAndGlyphs">4</text></g><g transform="translate(37.9,550.7) rotate(-90)"><text x="0" y="0" font-family="'Liberation Sans', sans-serif" font-size="10" fill="#000" textLength="7" lengthAdjust="spacingAndGlyphs">10</text><text x="9.2" y="-5.0" font-family="'Liberation Sans', sans-serif" font-size="8" fill="#000" textLength="4" lengthAdjust="spacingAndGlyphs">0</text></g><path transform="translate(0 .5)" d="M222 502h2M224 503h1M196 517h2M186 518h1M194 518h1M196 518h1M185 519h1M193 519h1M195 519h1M184 520h3M188 520h1M190 520h1M192 520h2M195 520h1M181 521h2M184 521h5M190 521h2M193 521h3M197 521h1M199 521h1M201 521h1M203 521h1M178 522h1M181 522h5M187 522h1M189 522h6M197 522h4M202 522h1M204 522h1M206 522h1M174 523h2M179 523h1M181 523h1M183 523h8M193 523h3M197 523h2M200 523h1M205 523h2M220 523h1M232 523h1M175 524h2M179 524h1M181 524h12M195 524h3M199 524h3M220 524h2M224 524h1M227 524h1M175 525h23M199 525h1M201 525h1M220 525h1M224 525h2M227 525h2M230 525h2M171 526h2M175 526h9M185 526h11M197 526h4M202 526h1M204 526h1M219 526h1M222 526h3M226 526h1M228 526h1M231 526h1M172 527h2M175 527h19M195 527h3M201 527h1M205 527h2M213 527h1M216 527h1M220 527h2M223 527h1M225 527h2M228 527h2M231 527h2M234 527h3M167 528h1M172 528h3M176 528h23M200 528h2M204 528h1M215 528h5M221 528h3M225 528h2M228 528h1M230 528h1M233 528h1M236 528h1M166 529h3M170 529h4M175 529h19M195 529h1M197 529h3M201 529h2M204 529h1M216 529h1M218 529h2M221 529h1M226 529h4M231 529h1M233 529h2M242 529h1M167 530h3M171 530h26M199 530h1M202 530h1M214 530h2M218 530h6M225 530h1M228 530h4M241 530h2M166 531h1M169 531h25M195 531h4M214 531h1M216 531h2M220 531h5M227 531h1M233 531h1M236 531h1M167 532h31M216 532h1M218 532h8M227 532h8M168 533h28M197 533h1M200 533h2M214 533h7M222 533h5M228 533h2M232 533h1M164 534h1M167 534h2M170 534h3M174 534h18M194 534h1M196 534h1M201 534h1M213 534h2M217 534h2M220 534h1M222 534h1M225 534h1M227 534h2M231 534h3M236 534h1M165 535h4M170 535h11M182 535h8M194 535h1M213 535h1M215 535h1M218 535h2M221 535h2M225 535h4M231 535h1M233 535h1M237 535h1M166 536h1M169 536h5M175 536h11M188 536h2M193 536h2M214 536h2M223 536h1M226 536h4M231 536h1M169 537h1M172 537h2M175 537h2M178 537h2M182 537h5M189 537h2M221 537h2M226 537h2M229 537h1M231 537h1M234 537h1M172 538h3M176 538h7M184 538h2M190 538h1M222 538h1M172 539h1M174 539h3M178 539h1M182 539h1M184 539h1M187 539h1M213 539h1M223 539h1M173 540h1M177 540h1M179 540h1M185 540h3M212 540h1M214 540h1M173 541h1M178 541h1M186 541h1M200 541h2M174 542h1M185 542h2M193 542h1M200 542h1M192 543h2" stroke="#000" stroke-width="1" fill="none"/><path transform="translate(0 .5)" d="M221 494h1M225 494h1M226 495h1M228 495h1M213 497h1M225 498h1M235 498h1M214 499h1M218 500h1M217 501h1M221 501h1M227 501h1M212 502h1M225 502h1M222 504h1M213 505h1M210 510h1M207 511h1M190 513h1M195 515h1M198 515h1M200 515h2M187 517h1M206 517h1M206 518h1M212 518h1M188 519h1M190 519h1M204 519h1M208 519h1M197 520h1M199 520h1M225 520h2M232 520h1M179 521h1M211 521h2M223 521h1M177 522h1M218 522h1M169 523h1M208 523h1M212 523h1M214 523h1M224 523h1M228 523h1M231 523h1M233 523h1M238 523h1M173 524h1M203 524h1M218 524h1M222 524h1M239 524h1M205 525h1M214 526h1M216 526h1M170 527h1M212 527h1M207 528h1M210 528h1M211 529h1M164 530h1M205 530h1M207 530h1M236 530h1M238 530h1M208 531h1M212 531h1M240 531h1M244 531h1M210 532h1M236 532h1M165 533h1M212 533h1M198 534h1M206 534h1M235 534h1M238 534h1M242 534h2M196 535h1M208 535h1M240 535h1M246 535h1M192 536h1M200 536h1M235 536h1M167 537h1M219 537h1M233 537h1M241 537h1M164 538h1M169 538h1M208 538h1M218 538h1M225 538h1M231 538h1M190 539h1M196 539h1M211 539h1M215 539h1M220 539h1M238 539h1M182 540h1M196 540h1M199 540h1M218 540h1M220 540h1M223 540h1M230 540h1M244 540h1M171 541h1M175 541h1M180 541h1M194 541h1M182 542h1M188 542h1M203 542h1M226 542h1M230 542h1M174 543h1M212 543h1M221 543h1M228 543h1" stroke="#555" stroke-width="1" fill="none"/><path d="M163 478.5H247.5V545" fill="none" stroke="#000" stroke-width="1.1"/><line x1="163.00" y1="478.00" x2="163.00" y2="546.00" stroke="#000" stroke-width="2" /><line x1="162.00" y1="545.00" x2="248.00" y2="545.00" stroke="#000" stroke-width="2" /><path d="M159.0 545.0H163M160.4 540.0H163M160.4 537.1H163M160.4 535.0H163M160.4 533.4H163M160.4 532.1H163M160.4 531.0H163M160.4 530.0H163M160.4 529.1H163M159.0 528.4H163M160.4 523.4H163M160.4 520.4H163M160.4 518.4H163M160.4 516.8H163M160.4 515.4H163M160.4 514.3H163M160.4 513.4H163M160.4 512.5H163M159.0 511.8H163M160.4 506.7H163M160.4 503.8H163M160.4 501.7H163M160.4 500.1H163M160.4 498.8H163M160.4 497.7H163M160.4 496.7H163M160.4 495.9H163M159.0 495.1H163M160.4 490.1H163M160.4 487.2H163M160.4 485.1H163M160.4 483.5H163M160.4 482.2H163M160.4 481.1H163M160.4 480.1H163M160.4 479.3H163M159 478.5H163M163.0 545V549.0M169.4 545V547.6M173.1 545V547.6M175.7 545V547.6M177.8 545V547.6M179.4 545V547.6M180.9 545V547.6M182.1 545V547.6M183.2 545V547.6M184.1 545V549.0M190.5 545V547.6M194.2 545V547.6M196.8 545V547.6M198.9 545V547.6M200.6 545V547.6M202.0 545V547.6M203.2 545V547.6M204.3 545V547.6M205.2 545V549.0M211.6 545V547.6M215.3 545V547.6M218.0 545V547.6M220.0 545V547.6M221.7 545V547.6M223.1 545V547.6M224.3 545V547.6M225.4 545V547.6M226.4 545V549.0M232.7 545V547.6M236.5 545V547.6M239.1 545V547.6M241.1 545V547.6M242.8 545V547.6M244.2 545V547.6M245.5 545V547.6M246.5 545V547.6M247.5 545V549" stroke="#000" stroke-width="1.1" fill="none"/><line x1="207.50" y1="479.40" x2="207.50" y2="543.60" stroke="#000" stroke-width="1.2" stroke-dasharray="4.3 3.3"/><line x1="163.60" y1="518.50" x2="246.30" y2="518.50" stroke="#000" stroke-width="1.2" stroke-dasharray="4.3 3.3"/><line x1="171.50" y1="482.30" x2="171.50" y2="503.00" stroke="#444" stroke-width="1.1" /><line x1="165.80" y1="493.50" x2="196.50" y2="493.50" stroke="#444" stroke-width="1.1" /><text x="193.5" y="492.2" font-family="'Liberation Serif', serif" font-size="12" font-weight="bold" text-anchor="end" fill="#000" >4.2</text><text x="193.5" y="504.7" font-family="'Liberation Serif', serif" font-size="12" font-weight="bold" text-anchor="end" fill="#000" >16.8</text><text x="156.3" y="561.2" font-family="'Liberation Sans', sans-serif" font-size="10" fill="#000" textLength="8.1" lengthAdjust="spacingAndGlyphs">10</text><text x="165.5" y="555.8" font-family="'Liberation Sans', sans-serif" font-size="8" fill="#000" textLength="4.5" lengthAdjust="spacingAndGlyphs">0</text><text x="176.8" y="561.2" font-family="'Liberation Sans', sans-serif" font-size="10" fill="#000" textLength="8.1" lengthAdjust="spacingAndGlyphs">10</text><text x="186.0" y="555.8" font-family="'Liberation Sans', sans-serif" font-size="8" fill="#000" textLength="4.5" lengthAdjust="spacingAndGlyphs">1</text><text x="197.2" y="561.2" font-family="'Liberation Sans', sans-serif" font-size="10" fill="#000" textLength="8.1" lengthAdjust="spacingAndGlyphs">10</text><text x="206.4" y="555.8" font-family="'Liberation Sans', sans-serif" font-size="8" fill="#000" textLength="4.5" lengthAdjust="spacingAndGlyphs">2</text><text x="217.7" y="561.2" font-family="'Liberation Sans', sans-serif" font-size="10" fill="#000" textLength="8.1" lengthAdjust="spacingAndGlyphs">10</text><text x="226.9" y="555.8" font-family="'Liberation Sans', sans-serif" font-size="8" fill="#000" textLength="4.5" lengthAdjust="spacingAndGlyphs">3</text><text x="238.2" y="561.2" font-family="'Liberation Sans', sans-serif" font-size="10" fill="#000" textLength="8.1" lengthAdjust="spacingAndGlyphs">10</text><text x="247.4" y="555.8" font-family="'Liberation Sans', sans-serif" font-size="8" fill="#000" textLength="4.5" lengthAdjust="spacingAndGlyphs">4</text><g transform="translate(155.3,484.6) rotate(-90)"><text x="0" y="0" font-family="'Liberation Sans', sans-serif" font-size="10" fill="#000" textLength="7" lengthAdjust="spacingAndGlyphs">10</text><text x="9.2" y="-5.0" font-family="'Liberation Sans', sans-serif" font-size="8" fill="#000" textLength="4" lengthAdjust="spacingAndGlyphs">4</text></g><g transform="translate(155.3,549.6) rotate(-90)"><text x="0" y="0" font-family="'Liberation Sans', sans-serif" font-size="10" fill="#000" textLength="7" lengthAdjust="spacingAndGlyphs">10</text><text x="9.2" y="-5.0" font-family="'Liberation Sans', sans-serif" font-size="8" fill="#000" textLength="4" lengthAdjust="spacingAndGlyphs">0</text></g><path transform="translate(0 .5)" d="M78 610h1M78 611h2M69 616h1M68 617h1M88 617h1M90 617h1M93 617h1M96 617h1M56 618h2M73 618h1M89 618h2M92 618h1M94 618h1M96 618h2M99 618h1M55 619h1M57 619h1M60 619h4M65 619h2M70 619h3M90 619h2M95 619h1M99 619h2M57 620h1M61 620h1M63 620h4M70 620h1M92 620h1M95 620h2M99 620h1M101 620h1M56 621h3M60 621h7M68 621h2M92 621h2M100 621h2M48 622h1M51 622h1M55 622h1M58 622h1M60 622h2M63 622h3M69 622h2M91 622h2M99 622h3M105 622h1M49 623h1M52 623h1M55 623h2M58 623h2M61 623h4M66 623h1M68 623h2M91 623h1M93 623h1M100 623h1M104 623h2M56 624h1M58 624h2M62 624h5M82 624h1M85 624h1M89 624h1M92 624h2M96 624h1M98 624h1M100 624h1M48 625h1M54 625h1M56 625h6M65 625h3M83 625h3M88 625h5M94 625h1M96 625h3M47 626h5M53 626h1M55 626h2M58 626h4M63 626h3M67 626h1M91 626h1M95 626h1M98 626h1M48 627h10M59 627h6M67 627h1M89 627h4M94 627h2M99 627h1M49 628h13M63 628h1M66 628h2M86 628h2M89 628h1M93 628h1M95 628h1M98 628h2M49 629h15M65 629h2M68 629h2M86 629h1M48 630h16M67 630h2M48 631h13M62 631h1M66 631h1M92 631h2M95 631h2M47 632h15M65 632h1M93 632h1M96 632h1M47 633h18M47 634h16M47 635h15M47 636h13M47 637h11M48 638h11" stroke="#000" stroke-width="1" fill="none"/><path transform="translate(0 .5)" d="M98 594h1M88 597h1M95 597h1M89 600h1M91 601h1M89 602h1M98 602h1M101 602h1M86 603h1M98 603h1M107 603h1M92 604h1M101 604h1M106 604h1M94 605h1M108 605h1M97 606h1M99 607h1M105 607h1M96 608h1M99 610h1M75 611h1M85 611h1M87 611h1M107 611h1M67 612h1M72 612h1M77 612h1M90 612h1M93 612h1M96 612h1M64 614h1M85 614h1M87 614h1M89 614h1M77 615h1M102 615h1M65 616h1M67 616h1M76 616h1M80 616h1M87 616h1M93 616h1M95 616h1M101 616h1M60 617h1M70 617h1M82 617h1M54 618h1M74 618h1M68 619h1M78 619h1M80 619h1M86 619h2M76 620h1M82 620h1M84 620h1M51 621h1M73 621h1M104 621h1M108 621h1M95 622h1M98 622h1M109 622h1M47 623h1M81 623h1M84 623h1M102 623h1M50 624h1M52 624h1M87 624h1M73 625h1M100 625h1M104 626h1M69 627h1M107 627h1M71 628h1M101 628h1M47 629h1M95 629h1M97 629h1M83 630h1M85 630h1M89 630h1M100 630h1M102 630h1M104 630h1M108 631h1M98 632h1M102 632h1M67 633h1M84 633h1M90 633h2M107 633h1M66 634h1M98 634h1M104 634h1M108 634h1M99 635h1M62 636h1M93 637h1M60 638h1M62 638h1M114 638h1" stroke="#555" stroke-width="1" fill="none"/><path d="M45 573.5H132.5V640" fill="none" stroke="#000" stroke-width="1.1"/><line x1="45.00" y1="573.00" x2="45.00" y2="641.00" stroke="#000" stroke-width="2" /><line x1="44.00" y1="640.00" x2="133.00" y2="640.00" stroke="#000" stroke-width="2" /><path d="M41.0 640.0H45M42.4 635.0H45M42.4 632.1H45M42.4 630.0H45M42.4 628.4H45M42.4 627.1H45M42.4 626.0H45M42.4 625.0H45M42.4 624.1H45M41.0 623.4H45M42.4 618.4H45M42.4 615.4H45M42.4 613.4H45M42.4 611.8H45M42.4 610.4H45M42.4 609.3H45M42.4 608.4H45M42.4 607.5H45M41.0 606.8H45M42.4 601.7H45M42.4 598.8H45M42.4 596.7H45M42.4 595.1H45M42.4 593.8H45M42.4 592.7H45M42.4 591.7H45M42.4 590.9H45M41.0 590.1H45M42.4 585.1H45M42.4 582.2H45M42.4 580.1H45M42.4 578.5H45M42.4 577.2H45M42.4 576.1H45M42.4 575.1H45M42.4 574.3H45M41 573.5H45M45.0 640V644.0M51.6 640V642.6M55.4 640V642.6M58.2 640V642.6M60.3 640V642.6M62.0 640V642.6M63.5 640V642.6M64.8 640V642.6M65.9 640V642.6M66.9 640V644.0M73.5 640V642.6M77.3 640V642.6M80.0 640V642.6M82.2 640V642.6M83.9 640V642.6M85.4 640V642.6M86.6 640V642.6M87.7 640V642.6M88.8 640V644.0M95.3 640V642.6M99.2 640V642.6M101.9 640V642.6M104.0 640V642.6M105.8 640V642.6M107.2 640V642.6M108.5 640V642.6M109.6 640V642.6M110.6 640V644.0M117.2 640V642.6M121.1 640V642.6M123.8 640V642.6M125.9 640V642.6M127.6 640V642.6M129.1 640V642.6M130.4 640V642.6M131.5 640V642.6M132.5 640V644" stroke="#000" stroke-width="1.1" fill="none"/><line x1="81.50" y1="574.10" x2="81.50" y2="639.00" stroke="#000" stroke-width="1.2" stroke-dasharray="4.3 3.3"/><line x1="46.40" y1="618.50" x2="131.40" y2="618.50" stroke="#000" stroke-width="1.2" stroke-dasharray="4.3 3.3"/><line x1="54.50" y1="576.00" x2="54.50" y2="599.60" stroke="#444" stroke-width="1.1" /><line x1="49.50" y1="588.50" x2="77.70" y2="588.50" stroke="#444" stroke-width="1.1" /><text x="76" y="588.5" font-family="'Liberation Serif', serif" font-size="12" font-weight="bold" text-anchor="end" fill="#000" >5.4</text><text x="76" y="599.6" font-family="'Liberation Serif', serif" font-size="12" font-weight="bold" text-anchor="end" fill="#000" >15.3</text><text x="40.6" y="656.2" font-family="'Liberation Sans', sans-serif" font-size="10" fill="#000" textLength="8.1" lengthAdjust="spacingAndGlyphs">10</text><text x="49.8" y="650.8" font-family="'Liberation Sans', sans-serif" font-size="8" fill="#000" textLength="4.5" lengthAdjust="spacingAndGlyphs">0</text><text x="61.7" y="656.2" font-family="'Liberation Sans', sans-serif" font-size="10" fill="#000" textLength="8.1" lengthAdjust="spacingAndGlyphs">10</text><text x="70.9" y="650.8" font-family="'Liberation Sans', sans-serif" font-size="8" fill="#000" textLength="4.5" lengthAdjust="spacingAndGlyphs">1</text><text x="82.7" y="656.2" font-family="'Liberation Sans', sans-serif" font-size="10" fill="#000" textLength="8.1" lengthAdjust="spacingAndGlyphs">10</text><text x="91.9" y="650.8" font-family="'Liberation Sans', sans-serif" font-size="8" fill="#000" textLength="4.5" lengthAdjust="spacingAndGlyphs">2</text><text x="103.8" y="656.2" font-family="'Liberation Sans', sans-serif" font-size="10" fill="#000" textLength="8.1" lengthAdjust="spacingAndGlyphs">10</text><text x="113.0" y="650.8" font-family="'Liberation Sans', sans-serif" font-size="8" fill="#000" textLength="4.5" lengthAdjust="spacingAndGlyphs">3</text><text x="124.8" y="656.2" font-family="'Liberation Sans', sans-serif" font-size="10" fill="#000" textLength="8.1" lengthAdjust="spacingAndGlyphs">10</text><text x="134.0" y="650.8" font-family="'Liberation Sans', sans-serif" font-size="8" fill="#000" textLength="4.5" lengthAdjust="spacingAndGlyphs">4</text><g transform="translate(38.1,579.3) rotate(-90)"><text x="0" y="0" font-family="'Liberation Sans', sans-serif" font-size="10" fill="#000" textLength="7" lengthAdjust="spacingAndGlyphs">10</text><text x="9.2" y="-5.0" font-family="'Liberation Sans', sans-serif" font-size="8" fill="#000" textLength="4" lengthAdjust="spacingAndGlyphs">4</text></g><g transform="translate(38.1,645.0) rotate(-90)"><text x="0" y="0" font-family="'Liberation Sans', sans-serif" font-size="10" fill="#000" textLength="7" lengthAdjust="spacingAndGlyphs">10</text><text x="9.2" y="-5.0" font-family="'Liberation Sans', sans-serif" font-size="8" fill="#000" textLength="4" lengthAdjust="spacingAndGlyphs">0</text></g><path transform="translate(0 .5)" d="M225 611h2M225 612h1M223 614h1M228 614h1M219 615h1M223 615h1M227 615h1M215 616h2M218 616h1M220 616h1M222 616h2M225 616h1M227 616h1M215 617h1M218 617h1M220 617h7M228 617h2M213 618h1M216 618h1M218 618h1M221 618h3M228 618h1M214 619h2M217 619h6M224 619h2M228 619h1M217 620h5M223 620h2M226 620h2M229 620h1M231 620h1M216 621h1M218 621h4M223 621h8M232 621h1M215 622h3M219 622h3M223 622h2M226 622h2M230 622h2M233 622h2M166 623h2M183 623h2M215 623h4M220 623h2M223 623h6M230 623h1M232 623h2M167 624h1M184 624h3M190 624h1M214 624h1M216 624h3M220 624h2M223 624h9M178 625h3M183 625h3M187 625h5M211 625h2M214 625h16M176 626h5M182 626h3M187 626h2M193 626h1M195 626h2M205 626h1M212 626h2M217 626h11M230 626h1M174 627h2M180 627h1M182 627h3M186 627h1M188 627h2M192 627h6M206 627h1M211 627h1M213 627h1M216 627h5M222 627h8M233 627h1M171 628h1M174 628h3M178 628h2M182 628h2M186 628h2M189 628h5M196 628h4M202 628h2M205 628h1M210 628h6M217 628h11M229 628h1M171 629h2M175 629h2M178 629h1M180 629h1M182 629h6M189 629h7M199 629h2M202 629h3M212 629h2M215 629h7M223 629h2M226 629h2M169 630h1M174 630h4M179 630h10M191 630h6M198 630h1M200 630h2M204 630h1M211 630h1M216 630h1M220 630h5M227 630h1M170 631h2M173 631h2M177 631h3M181 631h16M198 631h1M213 631h1M215 631h2M218 631h3M224 631h2M228 631h1M170 632h3M174 632h1M177 632h1M179 632h2M182 632h5M188 632h4M194 632h2M197 632h1M199 632h1M212 632h1M214 632h2M217 632h1M219 632h1M221 632h1M223 632h1M225 632h1M171 633h2M174 633h3M179 633h7M187 633h5M193 633h4M199 633h3M210 633h4M215 633h1M218 633h7M226 633h1M175 634h3M179 634h7M187 634h1M190 634h1M192 634h2M195 634h1M197 634h1M200 634h1M203 634h1M209 634h1M211 634h1M213 634h1M217 634h1M219 634h5M225 634h1M227 634h2M172 635h1M176 635h1M178 635h6M185 635h2M188 635h4M193 635h2M198 635h2M209 635h1M216 635h1M222 635h2M173 636h2M181 636h1M183 636h1M186 636h1M188 636h2M192 636h3M196 636h2M206 636h1M217 636h1M222 636h1M173 637h1M186 637h5M192 637h1M194 637h1M196 637h1M198 637h1M201 637h2M205 637h2M216 637h1M219 637h3M185 638h2M188 638h2M195 638h1M201 638h1M205 638h1M217 638h2M186 639h1M217 639h1" stroke="#000" stroke-width="1" fill="none"/><path transform="translate(0 .5)" d="M233 591h1M221 593h1M211 594h1M215 595h1M212 597h1M229 597h1M234 598h1M221 599h1M228 599h1M216 600h1M232 600h1M228 603h1M234 603h1M214 604h1M219 607h1M226 608h1M225 609h1M217 613h1M223 613h1M227 613h1M221 614h1M234 616h1M237 616h1M185 617h1M213 617h1M232 617h1M230 618h1M193 619h1M234 619h1M182 620h1M182 621h1M212 621h2M176 622h1M238 622h1M182 623h1M187 623h1M190 623h1M194 623h1M205 623h1M172 624h1M174 624h1M193 624h1M210 624h1M199 625h1M202 625h1M205 625h1M165 626h1M208 626h1M168 627h1M200 627h1M232 627h1M234 627h1M236 627h1M167 628h1M209 628h1M229 629h1M168 630h1M210 630h1M231 630h1M165 631h1M202 631h1M206 631h1M229 631h1M204 632h1M207 632h1M232 632h1M168 633h1M229 633h1M170 634h1M204 634h1M231 634h1M202 635h1M206 635h1M214 635h1M171 636h1M209 636h1M211 636h1M231 636h1M236 636h1M242 636h1M178 637h2M203 637h1M223 637h1M227 637h1M239 637h1M174 638h1M176 638h1M199 638h1M238 638h1M176 639h1M195 639h1M201 639h1M205 639h1M215 639h1M219 639h1M222 639h1" stroke="#555" stroke-width="1" fill="none"/><path d="M163 574.5H248.5V641" fill="none" stroke="#000" stroke-width="1.1"/><line x1="163.00" y1="574.00" x2="163.00" y2="642.00" stroke="#000" stroke-width="2" /><line x1="162.00" y1="641.00" x2="249.00" y2="641.00" stroke="#000" stroke-width="2" /><path d="M159.0 641.0H163M160.4 636.0H163M160.4 633.1H163M160.4 631.0H163M160.4 629.4H163M160.4 628.1H163M160.4 627.0H163M160.4 626.0H163M160.4 625.1H163M159.0 624.4H163M160.4 619.4H163M160.4 616.4H163M160.4 614.4H163M160.4 612.8H163M160.4 611.4H163M160.4 610.3H163M160.4 609.4H163M160.4 608.5H163M159.0 607.8H163M160.4 602.7H163M160.4 599.8H163M160.4 597.7H163M160.4 596.1H163M160.4 594.8H163M160.4 593.7H163M160.4 592.7H163M160.4 591.9H163M159.0 591.1H163M160.4 586.1H163M160.4 583.2H163M160.4 581.1H163M160.4 579.5H163M160.4 578.2H163M160.4 577.1H163M160.4 576.1H163M160.4 575.3H163M159 574.5H163M163.0 641V645.0M169.4 641V643.6M173.2 641V643.6M175.9 641V643.6M177.9 641V643.6M179.6 641V643.6M181.1 641V643.6M182.3 641V643.6M183.4 641V643.6M184.4 641V645.0M190.8 641V643.6M194.6 641V643.6M197.2 641V643.6M199.3 641V643.6M201.0 641V643.6M202.4 641V643.6M203.7 641V643.6M204.8 641V643.6M205.8 641V645.0M212.2 641V643.6M215.9 641V643.6M218.6 641V643.6M220.7 641V643.6M222.4 641V643.6M223.8 641V643.6M225.1 641V643.6M226.1 641V643.6M227.1 641V645.0M233.6 641V643.6M237.3 641V643.6M240.0 641V643.6M242.1 641V643.6M243.8 641V643.6M245.2 641V643.6M246.4 641V643.6M247.5 641V643.6M248.5 641V645" stroke="#000" stroke-width="1.1" fill="none"/><line x1="204.50" y1="575.20" x2="204.50" y2="639.70" stroke="#000" stroke-width="1.2" stroke-dasharray="4.3 3.3"/><line x1="164.10" y1="617.50" x2="247.50" y2="617.50" stroke="#000" stroke-width="1.2" stroke-dasharray="4.3 3.3"/><line x1="174.50" y1="576.50" x2="174.50" y2="600.00" stroke="#444" stroke-width="1.1" /><line x1="167.70" y1="588.50" x2="197.70" y2="588.50" stroke="#444" stroke-width="1.1" /><text x="195.8" y="589.2" font-family="'Liberation Serif', serif" font-size="12" font-weight="bold" text-anchor="end" fill="#000" >4.9</text><text x="195.8" y="600.8" font-family="'Liberation Serif', serif" font-size="12" font-weight="bold" text-anchor="end" fill="#000" >24.3</text><text x="158.0" y="657.2" font-family="'Liberation Sans', sans-serif" font-size="10" fill="#000" textLength="8.1" lengthAdjust="spacingAndGlyphs">10</text><text x="167.2" y="651.8" font-family="'Liberation Sans', sans-serif" font-size="8" fill="#000" textLength="4.5" lengthAdjust="spacingAndGlyphs">0</text><text x="178.7" y="657.2" font-family="'Liberation Sans', sans-serif" font-size="10" fill="#000" textLength="8.1" lengthAdjust="spacingAndGlyphs">10</text><text x="187.8" y="651.8" font-family="'Liberation Sans', sans-serif" font-size="8" fill="#000" textLength="4.5" lengthAdjust="spacingAndGlyphs">1</text><text x="199.3" y="657.2" font-family="'Liberation Sans', sans-serif" font-size="10" fill="#000" textLength="8.1" lengthAdjust="spacingAndGlyphs">10</text><text x="208.5" y="651.8" font-family="'Liberation Sans', sans-serif" font-size="8" fill="#000" textLength="4.5" lengthAdjust="spacingAndGlyphs">2</text><text x="219.9" y="657.2" font-family="'Liberation Sans', sans-serif" font-size="10" fill="#000" textLength="8.1" lengthAdjust="spacingAndGlyphs">10</text><text x="229.1" y="651.8" font-family="'Liberation Sans', sans-serif" font-size="8" fill="#000" textLength="4.5" lengthAdjust="spacingAndGlyphs">3</text><text x="240.6" y="657.2" font-family="'Liberation Sans', sans-serif" font-size="10" fill="#000" textLength="8.1" lengthAdjust="spacingAndGlyphs">10</text><text x="249.8" y="651.8" font-family="'Liberation Sans', sans-serif" font-size="8" fill="#000" textLength="4.5" lengthAdjust="spacingAndGlyphs">4</text><g transform="translate(155.8,580.4) rotate(-90)"><text x="0" y="0" font-family="'Liberation Sans', sans-serif" font-size="10" fill="#000" textLength="7" lengthAdjust="spacingAndGlyphs">10</text><text x="9.2" y="-5.0" font-family="'Liberation Sans', sans-serif" font-size="8" fill="#000" textLength="4" lengthAdjust="spacingAndGlyphs">4</text></g><g transform="translate(155.8,645.7) rotate(-90)"><text x="0" y="0" font-family="'Liberation Sans', sans-serif" font-size="10" fill="#000" textLength="7" lengthAdjust="spacingAndGlyphs">10</text><text x="9.2" y="-5.0" font-family="'Liberation Sans', sans-serif" font-size="8" fill="#000" textLength="4" lengthAdjust="spacingAndGlyphs">0</text></g><path transform="translate(0 .5)" d="M333 310h2M333 311h2M336 311h3M333 312h1M337 312h1M334 313h1M336 313h1M325 314h1M324 315h2M323 316h4M318 317h3M323 317h4M329 317h2M317 318h10M329 318h1M319 319h5M325 319h2M328 319h2M314 320h1M316 320h9M326 320h3M315 321h1M317 321h6M324 321h1M326 321h2M315 322h8M324 322h2M327 322h1M314 323h13M314 324h1M316 324h10M327 324h1M315 325h7M323 325h2M326 325h1M312 326h2M315 326h4M321 326h4M326 326h1M313 327h2M317 327h1M320 327h4M315 328h1M318 328h2M321 328h1M318 329h2" stroke="#000" stroke-width="1" fill="none"/><path transform="translate(0 .5)" d="M358 287h1M352 293h1M357 295h1M364 295h1M363 301h1M335 307h1M343 307h1M333 308h1M328 309h1M330 309h1M326 311h2M331 311h1M323 312h1M330 312h1M326 313h1M334 314h1M337 314h1M319 315h1M321 315h1M327 315h1M329 315h1M333 316h1M353 317h1M316 318h1M356 318h1M358 318h1M313 319h1M331 319h1M351 319h1M311 320h1M332 320h1M351 320h1M362 320h1M353 321h1M362 321h1M359 323h1M328 324h1M353 324h1M364 324h1M327 327h1M359 327h1M316 329h1M325 329h1" stroke="#555" stroke-width="1" fill="none"/><path d="M308 263.5H392.5V330" fill="none" stroke="#000" stroke-width="1.1"/><line x1="308.00" y1="263.00" x2="308.00" y2="331.00" stroke="#000" stroke-width="2" /><line x1="307.00" y1="330.00" x2="393.00" y2="330.00" stroke="#000" stroke-width="2" /><path d="M304.0 330.0H308M305.4 325.0H308M305.4 322.1H308M305.4 320.0H308M305.4 318.4H308M305.4 317.1H308M305.4 316.0H308M305.4 315.0H308M305.4 314.1H308M304.0 313.4H308M305.4 308.4H308M305.4 305.4H308M305.4 303.4H308M305.4 301.8H308M305.4 300.4H308M305.4 299.3H308M305.4 298.4H308M305.4 297.5H308M304.0 296.8H308M305.4 291.7H308M305.4 288.8H308M305.4 286.7H308M305.4 285.1H308M305.4 283.8H308M305.4 282.7H308M305.4 281.7H308M305.4 280.9H308M304.0 280.1H308M305.4 275.1H308M305.4 272.2H308M305.4 270.1H308M305.4 268.5H308M305.4 267.2H308M305.4 266.1H308M305.4 265.1H308M305.4 264.3H308M304 263.5H308M308.0 330V334.0M314.4 330V332.6M318.1 330V332.6M320.7 330V332.6M322.8 330V332.6M324.4 330V332.6M325.9 330V332.6M327.1 330V332.6M328.2 330V332.6M329.1 330V334.0M335.5 330V332.6M339.2 330V332.6M341.8 330V332.6M343.9 330V332.6M345.6 330V332.6M347.0 330V332.6M348.2 330V332.6M349.3 330V332.6M350.2 330V334.0M356.6 330V332.6M360.3 330V332.6M363.0 330V332.6M365.0 330V332.6M366.7 330V332.6M368.1 330V332.6M369.3 330V332.6M370.4 330V332.6M371.4 330V334.0M377.7 330V332.6M381.5 330V332.6M384.1 330V332.6M386.1 330V332.6M387.8 330V332.6M389.2 330V332.6M390.5 330V332.6M391.5 330V332.6M392.5 330V334" stroke="#000" stroke-width="1.1" fill="none"/><line x1="342.50" y1="264.00" x2="342.50" y2="329.50" stroke="#000" stroke-width="1.2" stroke-dasharray="4.3 3.3"/><line x1="309.20" y1="309.50" x2="391.20" y2="309.50" stroke="#000" stroke-width="1.2" stroke-dasharray="4.3 3.3"/><line x1="315.50" y1="266.20" x2="315.50" y2="288.80" stroke="#444" stroke-width="1.1" /><line x1="310.00" y1="278.50" x2="339.50" y2="278.50" stroke="#444" stroke-width="1.1" /><text x="338" y="277.5" font-family="'Liberation Serif', serif" font-size="12" font-weight="bold" text-anchor="end" fill="#000" >0.9</text><text x="338" y="290.2" font-family="'Liberation Serif', serif" font-size="12" font-weight="bold" text-anchor="end" fill="#000" >2.9</text><text x="303.8" y="343.5" font-family="'Liberation Sans', sans-serif" font-size="10" fill="#000" textLength="8.1" lengthAdjust="spacingAndGlyphs">10</text><text x="313.0" y="338.1" font-family="'Liberation Sans', sans-serif" font-size="8" fill="#000" textLength="4.5" lengthAdjust="spacingAndGlyphs">0</text><text x="324.1" y="343.5" font-family="'Liberation Sans', sans-serif" font-size="10" fill="#000" textLength="8.1" lengthAdjust="spacingAndGlyphs">10</text><text x="333.3" y="338.1" font-family="'Liberation Sans', sans-serif" font-size="8" fill="#000" textLength="4.5" lengthAdjust="spacingAndGlyphs">1</text><text x="344.4" y="343.5" font-family="'Liberation Sans', sans-serif" font-size="10" fill="#000" textLength="8.1" lengthAdjust="spacingAndGlyphs">10</text><text x="353.6" y="338.1" font-family="'Liberation Sans', sans-serif" font-size="8" fill="#000" textLength="4.5" lengthAdjust="spacingAndGlyphs">2</text><text x="364.7" y="343.5" font-family="'Liberation Sans', sans-serif" font-size="10" fill="#000" textLength="8.1" lengthAdjust="spacingAndGlyphs">10</text><text x="373.9" y="338.1" font-family="'Liberation Sans', sans-serif" font-size="8" fill="#000" textLength="4.5" lengthAdjust="spacingAndGlyphs">3</text><text x="385.0" y="343.5" font-family="'Liberation Sans', sans-serif" font-size="10" fill="#000" textLength="8.1" lengthAdjust="spacingAndGlyphs">10</text><text x="394.2" y="338.1" font-family="'Liberation Sans', sans-serif" font-size="8" fill="#000" textLength="4.5" lengthAdjust="spacingAndGlyphs">4</text><g transform="translate(302.0,269.2) rotate(-90)"><text x="0" y="0" font-family="'Liberation Sans', sans-serif" font-size="9" fill="#000" textLength="6.5" lengthAdjust="spacingAndGlyphs">10</text><text x="8.7" y="-5.0" font-family="'Liberation Sans', sans-serif" font-size="8" fill="#000" textLength="4" lengthAdjust="spacingAndGlyphs">4</text></g><g transform="translate(302.0,335.5) rotate(-90)"><text x="0" y="0" font-family="'Liberation Sans', sans-serif" font-size="9" fill="#000" textLength="6.5" lengthAdjust="spacingAndGlyphs">10</text><text x="8.7" y="-5.0" font-family="'Liberation Sans', sans-serif" font-size="8" fill="#000" textLength="4" lengthAdjust="spacingAndGlyphs">0</text></g><text x="348.1" y="255.3" font-family="'Liberation Serif', serif" font-size="11.3" font-weight="bold" text-anchor="middle" fill="#000" ><tspan font-style="italic">α</tspan>-TCPH</text><path transform="translate(0 .5)" d="M441 312h1M434 313h1M437 313h2M441 313h2M449 313h1M431 314h1M435 314h3M439 314h2M443 314h2M431 315h4M438 315h1M441 315h2M444 315h1M435 316h4M440 316h1M443 316h3M448 316h2M487 316h1M430 317h1M435 317h6M442 317h1M444 317h2M448 317h1M430 318h1M432 318h1M434 318h3M438 318h2M441 318h2M462 318h1M431 319h2M434 319h4M439 319h1M425 320h1M430 320h10M425 321h3M429 321h9M441 321h2M424 322h15M440 322h2M425 323h2M428 323h8M437 323h3M481 323h1M423 324h2M426 324h1M428 324h1M430 324h1M432 324h7M480 324h2M422 325h1M425 325h1M427 325h1M429 325h4M434 325h4M476 325h1M423 326h1M427 326h8M436 326h2M422 327h1M425 327h4M430 327h4M435 327h1M426 328h5M434 328h1" stroke="#000" stroke-width="1" fill="none"/><path transform="translate(0 .5)" d="M480 295h1M483 295h1M477 297h1M480 297h1M473 300h1M449 304h1M444 310h1M441 311h1M435 312h1M444 312h2M450 312h1M461 313h1M448 314h1M472 314h1M466 315h1M488 315h1M429 316h1M467 316h1M432 317h1M476 317h1M480 317h1M487 317h1M428 318h1M467 318h1M472 318h1M483 318h1M489 318h1M423 319h1M425 319h1M445 319h1M461 319h1M463 319h1M479 319h1M421 320h1M477 320h1M487 320h1M471 321h1M468 322h1M486 322h1M477 324h1M485 324h1M488 324h1M470 326h1M475 326h1M460 327h1M464 327h1M477 327h1M487 327h1M422 328h1M424 328h1M439 328h1" stroke="#555" stroke-width="1" fill="none"/><path d="M420 264.5H505.5V330" fill="none" stroke="#000" stroke-width="1.1"/><line x1="420.00" y1="264.00" x2="420.00" y2="331.00" stroke="#000" stroke-width="2" /><line x1="419.00" y1="330.00" x2="506.00" y2="330.00" stroke="#000" stroke-width="2" /><path d="M416.0 330.0H420M417.4 325.1H420M417.4 322.2H420M417.4 320.1H420M417.4 318.6H420M417.4 317.3H420M417.4 316.2H420M417.4 315.2H420M417.4 314.4H420M416.0 313.6H420M417.4 308.7H420M417.4 305.8H420M417.4 303.8H420M417.4 302.2H420M417.4 300.9H420M417.4 299.8H420M417.4 298.8H420M417.4 298.0H420M416.0 297.2H420M417.4 292.3H420M417.4 289.4H420M417.4 287.4H420M417.4 285.8H420M417.4 284.5H420M417.4 283.4H420M417.4 282.5H420M417.4 281.6H420M416.0 280.9H420M417.4 275.9H420M417.4 273.1H420M417.4 271.0H420M417.4 269.4H420M417.4 268.1H420M417.4 267.0H420M417.4 266.1H420M417.4 265.2H420M416 264.5H420M420.0 330V334.0M426.4 330V332.6M430.2 330V332.6M432.9 330V332.6M434.9 330V332.6M436.6 330V332.6M438.1 330V332.6M439.3 330V332.6M440.4 330V332.6M441.4 330V334.0M447.8 330V332.6M451.6 330V332.6M454.2 330V332.6M456.3 330V332.6M458.0 330V332.6M459.4 330V332.6M460.7 330V332.6M461.8 330V332.6M462.8 330V334.0M469.2 330V332.6M472.9 330V332.6M475.6 330V332.6M477.7 330V332.6M479.4 330V332.6M480.8 330V332.6M482.1 330V332.6M483.1 330V332.6M484.1 330V334.0M490.6 330V332.6M494.3 330V332.6M497.0 330V332.6M499.1 330V332.6M500.8 330V332.6M502.2 330V332.6M503.4 330V332.6M504.5 330V332.6M505.5 330V334" stroke="#000" stroke-width="1.1" fill="none"/><line x1="455.50" y1="265.50" x2="455.50" y2="329.00" stroke="#000" stroke-width="1.2" stroke-dasharray="4.3 3.3"/><line x1="420.50" y1="310.50" x2="504.00" y2="310.50" stroke="#000" stroke-width="1.2" stroke-dasharray="4.3 3.3"/><line x1="427.50" y1="267.50" x2="427.50" y2="290.50" stroke="#444" stroke-width="1.1" /><line x1="420.00" y1="279.50" x2="451.20" y2="279.50" stroke="#444" stroke-width="1.1" /><text x="449.5" y="278" font-family="'Liberation Serif', serif" font-size="12" font-weight="bold" text-anchor="end" fill="#000" >1.2</text><text x="449.5" y="292" font-family="'Liberation Serif', serif" font-size="12" font-weight="bold" text-anchor="end" fill="#000" >3.4</text><text x="416.3" y="345.5" font-family="'Liberation Sans', sans-serif" font-size="10" fill="#000" textLength="8.1" lengthAdjust="spacingAndGlyphs">10</text><text x="425.5" y="340.1" font-family="'Liberation Sans', sans-serif" font-size="8" fill="#000" textLength="4.5" lengthAdjust="spacingAndGlyphs">0</text><text x="437.0" y="345.5" font-family="'Liberation Sans', sans-serif" font-size="10" fill="#000" textLength="8.1" lengthAdjust="spacingAndGlyphs">10</text><text x="446.2" y="340.1" font-family="'Liberation Sans', sans-serif" font-size="8" fill="#000" textLength="4.5" lengthAdjust="spacingAndGlyphs">1</text><text x="457.7" y="345.5" font-family="'Liberation Sans', sans-serif" font-size="10" fill="#000" textLength="8.1" lengthAdjust="spacingAndGlyphs">10</text><text x="466.9" y="340.1" font-family="'Liberation Sans', sans-serif" font-size="8" fill="#000" textLength="4.5" lengthAdjust="spacingAndGlyphs">2</text><text x="478.3" y="345.5" font-family="'Liberation Sans', sans-serif" font-size="10" fill="#000" textLength="8.1" lengthAdjust="spacingAndGlyphs">10</text><text x="487.5" y="340.1" font-family="'Liberation Sans', sans-serif" font-size="8" fill="#000" textLength="4.5" lengthAdjust="spacingAndGlyphs">3</text><text x="499.0" y="345.5" font-family="'Liberation Sans', sans-serif" font-size="10" fill="#000" textLength="8.1" lengthAdjust="spacingAndGlyphs">10</text><text x="508.2" y="340.1" font-family="'Liberation Sans', sans-serif" font-size="8" fill="#000" textLength="4.5" lengthAdjust="spacingAndGlyphs">4</text><g transform="translate(413.3,270.7) rotate(-90)"><text x="0" y="0" font-family="'Liberation Sans', sans-serif" font-size="9" fill="#000" textLength="6.5" lengthAdjust="spacingAndGlyphs">10</text><text x="8.7" y="-5.0" font-family="'Liberation Sans', sans-serif" font-size="8" fill="#000" textLength="4" lengthAdjust="spacingAndGlyphs">4</text></g><g transform="translate(413.3,335.0) rotate(-90)"><text x="0" y="0" font-family="'Liberation Sans', sans-serif" font-size="9" fill="#000" textLength="6.5" lengthAdjust="spacingAndGlyphs">10</text><text x="8.7" y="-5.0" font-family="'Liberation Sans', sans-serif" font-size="8" fill="#000" textLength="4" lengthAdjust="spacingAndGlyphs">0</text></g><text x="449.8" y="256.8" font-family="'Liberation Serif', serif" font-size="11" font-weight="bold" text-anchor="middle" fill="#000" ><tspan font-style="italic">α</tspan> -TCPH+H<tspan dy="3" font-size="7.5">2</tspan><tspan dy="-3">O</tspan><tspan dy="3" font-size="7.5">2</tspan></text><path transform="translate(0 .5)" d="M322 441h1M321 442h3M328 442h2M321 443h4M328 443h1M320 444h7M328 444h1M330 444h1M319 445h9M329 445h1M317 446h13M315 447h13M313 448h2M317 448h12M314 449h14M329 449h1M315 450h11M314 451h1M316 451h1M318 451h6M325 451h2M313 452h11M325 452h1M315 453h3M319 453h2M322 453h1M320 454h1" stroke="#000" stroke-width="1" fill="none"/><path transform="translate(0 .5)" d="M363 415h1M364 421h1M376 422h1M366 426h1M363 430h1M325 438h1M319 439h1M335 439h1M371 439h1M333 440h1M339 440h1M369 440h1M365 441h1M325 442h1M343 442h1M366 443h1M315 444h1M331 444h1M339 444h1M349 444h1M315 445h1M353 445h1M376 445h1M345 446h1M356 446h1M338 447h1M342 447h1M368 447h1M348 448h1M374 448h1M331 449h1M341 449h1M352 449h1M367 449h1M369 449h1M329 450h1M339 451h1M341 451h1M354 451h1M366 451h1M369 451h1M373 451h1M376 451h1M327 452h1M330 452h1M325 453h1M330 453h1" stroke="#555" stroke-width="1" fill="none"/><path d="M310 388.5H393.5V455" fill="none" stroke="#000" stroke-width="1.1"/><line x1="310.00" y1="388.00" x2="310.00" y2="456.00" stroke="#000" stroke-width="2" /><line x1="309.00" y1="455.00" x2="394.00" y2="455.00" stroke="#000" stroke-width="2" /><path d="M306.0 455.0H310M307.4 450.0H310M307.4 447.1H310M307.4 445.0H310M307.4 443.4H310M307.4 442.1H310M307.4 441.0H310M307.4 440.0H310M307.4 439.1H310M306.0 438.4H310M307.4 433.4H310M307.4 430.4H310M307.4 428.4H310M307.4 426.8H310M307.4 425.4H310M307.4 424.3H310M307.4 423.4H310M307.4 422.5H310M306.0 421.8H310M307.4 416.7H310M307.4 413.8H310M307.4 411.7H310M307.4 410.1H310M307.4 408.8H310M307.4 407.7H310M307.4 406.7H310M307.4 405.9H310M306.0 405.1H310M307.4 400.1H310M307.4 397.2H310M307.4 395.1H310M307.4 393.5H310M307.4 392.2H310M307.4 391.1H310M307.4 390.1H310M307.4 389.3H310M306 388.5H310M310.0 455V459.0M316.3 455V457.6M320.0 455V457.6M322.6 455V457.6M324.6 455V457.6M326.2 455V457.6M327.6 455V457.6M328.9 455V457.6M329.9 455V457.6M330.9 455V459.0M337.2 455V457.6M340.8 455V457.6M343.4 455V457.6M345.5 455V457.6M347.1 455V457.6M348.5 455V457.6M349.7 455V457.6M350.8 455V457.6M351.8 455V459.0M358.0 455V457.6M361.7 455V457.6M364.3 455V457.6M366.3 455V457.6M368.0 455V457.6M369.4 455V457.6M370.6 455V457.6M371.7 455V457.6M372.6 455V459.0M378.9 455V457.6M382.6 455V457.6M385.2 455V457.6M387.2 455V457.6M388.9 455V457.6M390.3 455V457.6M391.5 455V457.6M392.5 455V457.6M393.5 455V459" stroke="#000" stroke-width="1.1" fill="none"/><line x1="343.50" y1="389.40" x2="343.50" y2="454.30" stroke="#000" stroke-width="1.2" stroke-dasharray="4.3 3.3"/><line x1="310.50" y1="434.50" x2="392.10" y2="434.50" stroke="#000" stroke-width="1.2" stroke-dasharray="4.3 3.3"/><line x1="316.50" y1="391.20" x2="316.50" y2="413.10" stroke="#444" stroke-width="1.1" /><line x1="311.20" y1="402.50" x2="341.20" y2="402.50" stroke="#444" stroke-width="1.1" /><text x="336.5" y="400.5" font-family="'Liberation Serif', serif" font-size="12" font-weight="bold" text-anchor="end" fill="#000" >0.8</text><text x="336.5" y="416.5" font-family="'Liberation Serif', serif" font-size="12" font-weight="bold" text-anchor="end" fill="#000" >2.9</text><text x="304.5" y="469.3" font-family="'Liberation Sans', sans-serif" font-size="10" fill="#000" textLength="8.1" lengthAdjust="spacingAndGlyphs">10</text><text x="313.7" y="463.9" font-family="'Liberation Sans', sans-serif" font-size="8" fill="#000" textLength="4.5" lengthAdjust="spacingAndGlyphs">0</text><text x="324.7" y="469.3" font-family="'Liberation Sans', sans-serif" font-size="10" fill="#000" textLength="8.1" lengthAdjust="spacingAndGlyphs">10</text><text x="333.9" y="463.9" font-family="'Liberation Sans', sans-serif" font-size="8" fill="#000" textLength="4.5" lengthAdjust="spacingAndGlyphs">1</text><text x="344.9" y="469.3" font-family="'Liberation Sans', sans-serif" font-size="10" fill="#000" textLength="8.1" lengthAdjust="spacingAndGlyphs">10</text><text x="354.1" y="463.9" font-family="'Liberation Sans', sans-serif" font-size="8" fill="#000" textLength="4.5" lengthAdjust="spacingAndGlyphs">2</text><text x="365.1" y="469.3" font-family="'Liberation Sans', sans-serif" font-size="10" fill="#000" textLength="8.1" lengthAdjust="spacingAndGlyphs">10</text><text x="374.3" y="463.9" font-family="'Liberation Sans', sans-serif" font-size="8" fill="#000" textLength="4.5" lengthAdjust="spacingAndGlyphs">3</text><text x="385.3" y="469.3" font-family="'Liberation Sans', sans-serif" font-size="10" fill="#000" textLength="8.1" lengthAdjust="spacingAndGlyphs">10</text><text x="394.5" y="463.9" font-family="'Liberation Sans', sans-serif" font-size="8" fill="#000" textLength="4.5" lengthAdjust="spacingAndGlyphs">4</text><g transform="translate(303.3,394.6) rotate(-90)"><text x="0" y="0" font-family="'Liberation Sans', sans-serif" font-size="9" fill="#000" textLength="6.5" lengthAdjust="spacingAndGlyphs">10</text><text x="8.7" y="-5.0" font-family="'Liberation Sans', sans-serif" font-size="8" fill="#000" textLength="4" lengthAdjust="spacingAndGlyphs">4</text></g><g transform="translate(303.3,460.3) rotate(-90)"><text x="0" y="0" font-family="'Liberation Sans', sans-serif" font-size="9" fill="#000" textLength="6.5" lengthAdjust="spacingAndGlyphs">10</text><text x="8.7" y="-5.0" font-family="'Liberation Sans', sans-serif" font-size="8" fill="#000" textLength="4" lengthAdjust="spacingAndGlyphs">0</text></g><text x="348.7" y="378.5" font-family="'Liberation Serif', serif" font-size="10.4" font-weight="bold" text-anchor="middle" fill="#000" ><tspan font-style="italic">α</tspan> -TCPH+ anti-RLIP76</text><path transform="translate(0 .5)" d="M432 442h2M441 442h1M432 443h1M439 443h3M427 444h1M429 444h3M433 444h1M435 444h2M438 444h2M425 445h2M428 445h1M431 445h2M434 445h5M426 446h1M429 446h7M437 446h2M441 446h1M448 446h1M426 447h11M439 447h2M442 447h1M448 447h2M425 448h3M429 448h7M437 448h1M441 448h1M427 449h9M437 449h1M439 449h1M425 450h14M440 450h1M424 451h13M438 451h2M426 452h8M438 452h1M425 453h2M428 453h6M436 453h2M427 454h1M431 454h3" stroke="#000" stroke-width="1" fill="none"/><path transform="translate(0 .5)" d="M477 411h1M479 414h1M482 415h1M475 420h1M477 426h1M430 436h1M432 437h1M448 437h2M471 437h1M481 437h1M483 437h1M485 437h1M489 437h1M440 438h1M442 438h1M444 438h1M433 439h1M472 439h1M445 440h1M449 440h1M472 440h1M436 441h2M475 441h1M464 442h1M467 442h1M473 442h1M476 442h1M446 443h1M485 443h1M491 443h1M489 444h1M464 445h2M466 447h1M469 447h1M424 448h1M466 448h1M471 448h1M466 450h1M481 450h1M485 450h1M423 451h1M442 451h1M480 451h1M440 452h1M435 453h1M447 453h1M424 454h1" stroke="#555" stroke-width="1" fill="none"/><path d="M422 387.5H503.5V455" fill="none" stroke="#000" stroke-width="1.1"/><line x1="422.00" y1="387.00" x2="422.00" y2="456.00" stroke="#000" stroke-width="2" /><line x1="421.00" y1="455.00" x2="504.00" y2="455.00" stroke="#000" stroke-width="2" /><path d="M418.0 455.0H422M419.4 449.9H422M419.4 446.9H422M419.4 444.8H422M419.4 443.2H422M419.4 441.9H422M419.4 440.7H422M419.4 439.8H422M419.4 438.9H422M418.0 438.1H422M419.4 433.0H422M419.4 430.1H422M419.4 428.0H422M419.4 426.3H422M419.4 425.0H422M419.4 423.9H422M419.4 422.9H422M419.4 422.0H422M418.0 421.2H422M419.4 416.2H422M419.4 413.2H422M419.4 411.1H422M419.4 409.5H422M419.4 408.1H422M419.4 407.0H422M419.4 406.0H422M419.4 405.1H422M418.0 404.4H422M419.4 399.3H422M419.4 396.3H422M419.4 394.2H422M419.4 392.6H422M419.4 391.2H422M419.4 390.1H422M419.4 389.1H422M419.4 388.3H422M418 387.5H422M422.0 455V459.0M428.1 455V457.6M431.7 455V457.6M434.3 455V457.6M436.2 455V457.6M437.9 455V457.6M439.2 455V457.6M440.4 455V457.6M441.4 455V457.6M442.4 455V459.0M448.5 455V457.6M452.1 455V457.6M454.6 455V457.6M456.6 455V457.6M458.2 455V457.6M459.6 455V457.6M460.8 455V457.6M461.8 455V457.6M462.8 455V459.0M468.9 455V457.6M472.5 455V457.6M475.0 455V457.6M477.0 455V457.6M478.6 455V457.6M480.0 455V457.6M481.2 455V457.6M482.2 455V457.6M483.1 455V459.0M489.3 455V457.6M492.8 455V457.6M495.4 455V457.6M497.4 455V457.6M499.0 455V457.6M500.3 455V457.6M501.5 455V457.6M502.6 455V457.6M503.5 455V459" stroke="#000" stroke-width="1.1" fill="none"/><line x1="455.50" y1="388.20" x2="455.50" y2="454.30" stroke="#000" stroke-width="1.2" stroke-dasharray="4.3 3.3"/><line x1="422.50" y1="434.50" x2="502.90" y2="434.50" stroke="#000" stroke-width="1.2" stroke-dasharray="4.3 3.3"/><line x1="428.50" y1="390.00" x2="428.50" y2="414.20" stroke="#444" stroke-width="1.1" /><line x1="422.20" y1="403.50" x2="452.20" y2="403.50" stroke="#444" stroke-width="1.1" /><text x="449.2" y="401" font-family="'Liberation Serif', serif" font-size="12" font-weight="bold" text-anchor="end" fill="#000" >1.1</text><text x="449.2" y="415.5" font-family="'Liberation Serif', serif" font-size="12" font-weight="bold" text-anchor="end" fill="#000" >3.1</text><text x="417.0" y="469.3" font-family="'Liberation Sans', sans-serif" font-size="10" fill="#000" textLength="8.1" lengthAdjust="spacingAndGlyphs">10</text><text x="426.2" y="463.9" font-family="'Liberation Sans', sans-serif" font-size="8" fill="#000" textLength="4.5" lengthAdjust="spacingAndGlyphs">0</text><text x="436.9" y="469.3" font-family="'Liberation Sans', sans-serif" font-size="10" fill="#000" textLength="8.1" lengthAdjust="spacingAndGlyphs">10</text><text x="446.1" y="463.9" font-family="'Liberation Sans', sans-serif" font-size="8" fill="#000" textLength="4.5" lengthAdjust="spacingAndGlyphs">1</text><text x="456.8" y="469.3" font-family="'Liberation Sans', sans-serif" font-size="10" fill="#000" textLength="8.1" lengthAdjust="spacingAndGlyphs">10</text><text x="466.0" y="463.9" font-family="'Liberation Sans', sans-serif" font-size="8" fill="#000" textLength="4.5" lengthAdjust="spacingAndGlyphs">2</text><text x="476.7" y="469.3" font-family="'Liberation Sans', sans-serif" font-size="10" fill="#000" textLength="8.1" lengthAdjust="spacingAndGlyphs">10</text><text x="485.9" y="463.9" font-family="'Liberation Sans', sans-serif" font-size="8" fill="#000" textLength="4.5" lengthAdjust="spacingAndGlyphs">3</text><text x="496.6" y="469.3" font-family="'Liberation Sans', sans-serif" font-size="10" fill="#000" textLength="8.1" lengthAdjust="spacingAndGlyphs">10</text><text x="505.8" y="463.9" font-family="'Liberation Sans', sans-serif" font-size="8" fill="#000" textLength="4.5" lengthAdjust="spacingAndGlyphs">4</text><g transform="translate(415.3,393.4) rotate(-90)"><text x="0" y="0" font-family="'Liberation Sans', sans-serif" font-size="9" fill="#000" textLength="6.5" lengthAdjust="spacingAndGlyphs">10</text><text x="8.7" y="-5.0" font-family="'Liberation Sans', sans-serif" font-size="8" fill="#000" textLength="4" lengthAdjust="spacingAndGlyphs">4</text></g><g transform="translate(415.3,460.3) rotate(-90)"><text x="0" y="0" font-family="'Liberation Sans', sans-serif" font-size="9" fill="#000" textLength="6.5" lengthAdjust="spacingAndGlyphs">10</text><text x="8.7" y="-5.0" font-family="'Liberation Sans', sans-serif" font-size="8" fill="#000" textLength="4" lengthAdjust="spacingAndGlyphs">0</text></g><text x="461.3" y="364.5" font-family="'Liberation Serif', serif" font-size="11" font-weight="bold" text-anchor="middle" fill="#000" ><tspan font-style="italic">α</tspan> -TCPH</text><text x="462.4" y="373.5" font-family="'Liberation Serif', serif" font-size="11" font-weight="bold" text-anchor="middle" fill="#000" >+</text><text x="461.4" y="382" font-family="'Liberation Serif', serif" font-size="11" font-weight="bold" text-anchor="middle" fill="#000" >H<tspan dy="3" font-size="7.5">2</tspan><tspan dy="-3">O</tspan><tspan dy="3" font-size="7.5">2</tspan><tspan dy="-3">+</tspan> anti-RLIP76</text><rect x="412" y="464.3" width="106" height="6.5" fill="#fff"/><path transform="translate(0 .5)" d="M327 535h2M323 536h1M326 536h1M319 537h1M321 537h5M327 537h2M318 538h3M322 538h2M326 538h2M321 539h6M318 540h7M326 540h2M316 541h2M319 541h7M313 542h1M317 542h9M314 543h10M315 544h10M313 545h6M320 545h1M323 545h1M313 546h8M313 547h1M315 547h4M312 548h4" stroke="#000" stroke-width="1" fill="none"/><path transform="translate(0 .5)" d="M365 509h1M364 511h1M366 512h1M325 534h1M370 534h1M378 534h1M329 535h1M339 536h2M364 536h1M337 537h1M366 538h1M316 539h1M346 539h1M349 539h1M356 539h1M372 539h1M328 540h1M336 540h1M350 540h1M359 540h1M364 540h1M314 541h1M341 541h1M347 542h1M326 543h1M370 543h1M375 543h1M337 544h1M336 545h1M342 545h1M310 546h2M311 548h1M319 548h1" stroke="#555" stroke-width="1" fill="none"/><path d="M308 480.5H394.5V550" fill="none" stroke="#000" stroke-width="1.1"/><line x1="308.00" y1="480.00" x2="308.00" y2="551.00" stroke="#000" stroke-width="2" /><line x1="307.00" y1="550.00" x2="395.00" y2="550.00" stroke="#000" stroke-width="2" /><path d="M304.0 550.0H308M305.4 544.8H308M305.4 541.7H308M305.4 539.5H308M305.4 537.9H308M305.4 536.5H308M305.4 535.3H308M305.4 534.3H308M305.4 533.4H308M304.0 532.6H308M305.4 527.4H308M305.4 524.3H308M305.4 522.2H308M305.4 520.5H308M305.4 519.1H308M305.4 517.9H308M305.4 516.9H308M305.4 516.0H308M304.0 515.2H308M305.4 510.0H308M305.4 507.0H308M305.4 504.8H308M305.4 503.1H308M305.4 501.7H308M305.4 500.6H308M305.4 499.6H308M305.4 498.7H308M304.0 497.9H308M305.4 492.6H308M305.4 489.6H308M305.4 487.4H308M305.4 485.7H308M305.4 484.4H308M305.4 483.2H308M305.4 482.2H308M305.4 481.3H308M304 480.5H308M308.0 550V554.0M314.5 550V552.6M318.3 550V552.6M321.0 550V552.6M323.1 550V552.6M324.8 550V552.6M326.3 550V552.6M327.5 550V552.6M328.6 550V552.6M329.6 550V554.0M336.1 550V552.6M339.9 550V552.6M342.6 550V552.6M344.7 550V552.6M346.5 550V552.6M347.9 550V552.6M349.2 550V552.6M350.3 550V552.6M351.2 550V554.0M357.8 550V552.6M361.6 550V552.6M364.3 550V552.6M366.4 550V552.6M368.1 550V552.6M369.5 550V552.6M370.8 550V552.6M371.9 550V552.6M372.9 550V554.0M379.4 550V552.6M383.2 550V552.6M385.9 550V552.6M388.0 550V552.6M389.7 550V552.6M391.2 550V552.6M392.4 550V552.6M393.5 550V552.6M394.5 550V554" stroke="#000" stroke-width="1.1" fill="none"/><line x1="341.50" y1="481.00" x2="341.50" y2="549.00" stroke="#000" stroke-width="1.2" stroke-dasharray="4.3 3.3"/><line x1="309.20" y1="526.50" x2="393.90" y2="526.50" stroke="#000" stroke-width="1.2" stroke-dasharray="4.3 3.3"/><line x1="314.50" y1="482.30" x2="314.50" y2="503.80" stroke="#444" stroke-width="1.1" /><line x1="308.80" y1="493.50" x2="338.80" y2="493.50" stroke="#444" stroke-width="1.1" /><text x="334.2" y="491.5" font-family="'Liberation Serif', serif" font-size="12" font-weight="bold" text-anchor="end" fill="#000" >1.0</text><text x="334.2" y="505.5" font-family="'Liberation Serif', serif" font-size="12" font-weight="bold" text-anchor="end" fill="#000" >3.5</text><text x="304.5" y="563.6" font-family="'Liberation Sans', sans-serif" font-size="10" fill="#000" textLength="8.1" lengthAdjust="spacingAndGlyphs">10</text><text x="313.7" y="558.2" font-family="'Liberation Sans', sans-serif" font-size="8" fill="#000" textLength="4.5" lengthAdjust="spacingAndGlyphs">0</text><text x="325.5" y="563.6" font-family="'Liberation Sans', sans-serif" font-size="10" fill="#000" textLength="8.1" lengthAdjust="spacingAndGlyphs">10</text><text x="334.7" y="558.2" font-family="'Liberation Sans', sans-serif" font-size="8" fill="#000" textLength="4.5" lengthAdjust="spacingAndGlyphs">1</text><text x="346.4" y="563.6" font-family="'Liberation Sans', sans-serif" font-size="10" fill="#000" textLength="8.1" lengthAdjust="spacingAndGlyphs">10</text><text x="355.6" y="558.2" font-family="'Liberation Sans', sans-serif" font-size="8" fill="#000" textLength="4.5" lengthAdjust="spacingAndGlyphs">2</text><text x="367.4" y="563.6" font-family="'Liberation Sans', sans-serif" font-size="10" fill="#000" textLength="8.1" lengthAdjust="spacingAndGlyphs">10</text><text x="376.6" y="558.2" font-family="'Liberation Sans', sans-serif" font-size="8" fill="#000" textLength="4.5" lengthAdjust="spacingAndGlyphs">3</text><text x="388.4" y="563.6" font-family="'Liberation Sans', sans-serif" font-size="10" fill="#000" textLength="8.1" lengthAdjust="spacingAndGlyphs">10</text><text x="397.6" y="558.2" font-family="'Liberation Sans', sans-serif" font-size="8" fill="#000" textLength="4.5" lengthAdjust="spacingAndGlyphs">4</text><g transform="translate(302.0,486.2) rotate(-90)"><text x="0" y="0" font-family="'Liberation Sans', sans-serif" font-size="9" fill="#000" textLength="6.5" lengthAdjust="spacingAndGlyphs">10</text><text x="8.7" y="-5.0" font-family="'Liberation Sans', sans-serif" font-size="8" fill="#000" textLength="4" lengthAdjust="spacingAndGlyphs">4</text></g><g transform="translate(302.0,555.0) rotate(-90)"><text x="0" y="0" font-family="'Liberation Sans', sans-serif" font-size="9" fill="#000" textLength="6.5" lengthAdjust="spacingAndGlyphs">10</text><text x="8.7" y="-5.0" font-family="'Liberation Sans', sans-serif" font-size="8" fill="#000" textLength="4" lengthAdjust="spacingAndGlyphs">0</text></g><path transform="translate(0 .5)" d="M436 535h1M439 535h1M435 536h2M439 536h2M443 536h2M434 537h7M443 537h1M432 538h1M435 538h4M440 538h4M432 539h4M437 539h2M440 539h3M432 540h8M441 540h3M431 541h14M429 542h1M431 542h14M427 543h6M434 543h1M436 543h5M428 544h12M441 544h3M428 545h3M432 545h11M428 546h5M434 546h2M437 546h2M428 547h1M430 547h6M428 548h2M431 548h3M435 548h2" stroke="#000" stroke-width="1" fill="none"/><path transform="translate(0 .5)" d="M485 507h1M473 509h1M474 510h1M478 510h1M477 512h1M473 514h1M480 519h1M468 531h1M474 531h1M485 531h1M490 531h1M470 532h1M480 532h1M444 533h1M466 533h1M483 533h1M491 533h1M466 534h1M500 534h1M447 535h1M474 535h1M478 535h1M483 535h1M492 535h1M470 536h1M500 536h1M429 537h1M483 537h1M485 537h1M447 538h1M449 538h1M451 539h1M491 539h2M427 540h1M429 540h1M447 540h1M478 540h1M427 541h1M426 543h1M446 543h1M485 543h1M486 544h1M425 545h1M496 545h1M426 547h1" stroke="#555" stroke-width="1" fill="none"/><path d="M423 479.5H509.5V549" fill="none" stroke="#000" stroke-width="1.1"/><line x1="423.00" y1="479.00" x2="423.00" y2="550.00" stroke="#000" stroke-width="2" /><line x1="422.00" y1="549.00" x2="510.00" y2="549.00" stroke="#000" stroke-width="2" /><path d="M419.0 549.0H423M420.4 543.8H423M420.4 540.7H423M420.4 538.5H423M420.4 536.9H423M420.4 535.5H423M420.4 534.3H423M420.4 533.3H423M420.4 532.4H423M419.0 531.6H423M420.4 526.4H423M420.4 523.3H423M420.4 521.2H423M420.4 519.5H423M420.4 518.1H423M420.4 516.9H423M420.4 515.9H423M420.4 515.0H423M419.0 514.2H423M420.4 509.0H423M420.4 506.0H423M420.4 503.8H423M420.4 502.1H423M420.4 500.7H423M420.4 499.6H423M420.4 498.6H423M420.4 497.7H423M419.0 496.9H423M420.4 491.6H423M420.4 488.6H423M420.4 486.4H423M420.4 484.7H423M420.4 483.4H423M420.4 482.2H423M420.4 481.2H423M420.4 480.3H423M419 479.5H423M423.0 549V553.0M429.5 549V551.6M433.3 549V551.6M436.0 549V551.6M438.1 549V551.6M439.8 549V551.6M441.3 549V551.6M442.5 549V551.6M443.6 549V551.6M444.6 549V553.0M451.1 549V551.6M454.9 549V551.6M457.6 549V551.6M459.7 549V551.6M461.5 549V551.6M462.9 549V551.6M464.2 549V551.6M465.3 549V551.6M466.2 549V553.0M472.8 549V551.6M476.6 549V551.6M479.3 549V551.6M481.4 549V551.6M483.1 549V551.6M484.5 549V551.6M485.8 549V551.6M486.9 549V551.6M487.9 549V553.0M494.4 549V551.6M498.2 549V551.6M500.9 549V551.6M503.0 549V551.6M504.7 549V551.6M506.2 549V551.6M507.4 549V551.6M508.5 549V551.6M509.5 549V553" stroke="#000" stroke-width="1.1" fill="none"/><line x1="456.50" y1="480.30" x2="456.50" y2="548.20" stroke="#000" stroke-width="1.2" stroke-dasharray="4.3 3.3"/><line x1="424.20" y1="526.50" x2="508.70" y2="526.50" stroke="#000" stroke-width="1.2" stroke-dasharray="4.3 3.3"/><line x1="430.50" y1="484.60" x2="430.50" y2="507.70" stroke="#444" stroke-width="1.1" /><line x1="424.50" y1="497.50" x2="456.20" y2="497.50" stroke="#444" stroke-width="1.1" /><text x="450" y="494.5" font-family="'Liberation Serif', serif" font-size="12" font-weight="bold" text-anchor="end" fill="#000" >1.4</text><text x="450" y="510" font-family="'Liberation Serif', serif" font-size="12" font-weight="bold" text-anchor="end" fill="#000" >3.6</text><text x="419.5" y="563.6" font-family="'Liberation Sans', sans-serif" font-size="10" fill="#000" textLength="8.1" lengthAdjust="spacingAndGlyphs">10</text><text x="428.7" y="558.2" font-family="'Liberation Sans', sans-serif" font-size="8" fill="#000" textLength="4.5" lengthAdjust="spacingAndGlyphs">0</text><text x="440.4" y="563.6" font-family="'Liberation Sans', sans-serif" font-size="10" fill="#000" textLength="8.1" lengthAdjust="spacingAndGlyphs">10</text><text x="449.6" y="558.2" font-family="'Liberation Sans', sans-serif" font-size="8" fill="#000" textLength="4.5" lengthAdjust="spacingAndGlyphs">1</text><text x="461.4" y="563.6" font-family="'Liberation Sans', sans-serif" font-size="10" fill="#000" textLength="8.1" lengthAdjust="spacingAndGlyphs">10</text><text x="470.6" y="558.2" font-family="'Liberation Sans', sans-serif" font-size="8" fill="#000" textLength="4.5" lengthAdjust="spacingAndGlyphs">2</text><text x="482.3" y="563.6" font-family="'Liberation Sans', sans-serif" font-size="10" fill="#000" textLength="8.1" lengthAdjust="spacingAndGlyphs">10</text><text x="491.5" y="558.2" font-family="'Liberation Sans', sans-serif" font-size="8" fill="#000" textLength="4.5" lengthAdjust="spacingAndGlyphs">3</text><text x="503.2" y="563.6" font-family="'Liberation Sans', sans-serif" font-size="10" fill="#000" textLength="8.1" lengthAdjust="spacingAndGlyphs">10</text><text x="512.4" y="558.2" font-family="'Liberation Sans', sans-serif" font-size="8" fill="#000" textLength="4.5" lengthAdjust="spacingAndGlyphs">4</text><g transform="translate(417.0,485.5) rotate(-90)"><text x="0" y="0" font-family="'Liberation Sans', sans-serif" font-size="9" fill="#000" textLength="6.5" lengthAdjust="spacingAndGlyphs">10</text><text x="8.7" y="-5.0" font-family="'Liberation Sans', sans-serif" font-size="8" fill="#000" textLength="4" lengthAdjust="spacingAndGlyphs">4</text></g><g transform="translate(417.0,554.2) rotate(-90)"><text x="0" y="0" font-family="'Liberation Sans', sans-serif" font-size="9" fill="#000" textLength="6.5" lengthAdjust="spacingAndGlyphs">10</text><text x="8.7" y="-5.0" font-family="'Liberation Sans', sans-serif" font-size="8" fill="#000" textLength="4" lengthAdjust="spacingAndGlyphs">0</text></g><path transform="translate(0 .5)" d="M328 626h2M327 627h1M329 627h2M374 627h1M327 628h4M373 628h2M326 629h6M326 630h5M332 630h2M327 631h5M325 632h6M321 633h4M326 633h6M321 634h1M323 634h5M331 634h1M320 635h1M323 635h4M328 635h2M321 636h9M320 637h9M321 638h8M319 639h8M328 639h1M318 640h2M321 640h6M328 640h2M319 641h6M326 641h1M321 642h3M326 642h2M319 643h1M322 643h3M318 644h1M323 644h1" stroke="#000" stroke-width="1" fill="none"/><path transform="translate(0 .5)" d="M366 597h1M357 605h1M369 608h1M362 612h1M376 620h1M335 622h1M334 623h1M332 624h1M346 625h1M360 625h1M382 625h1M332 626h2M350 626h1M352 626h1M363 626h1M366 627h1M370 627h1M332 628h1M357 628h1M334 629h1M360 629h1M385 629h1M351 630h1M367 630h1M370 630h1M363 631h1M369 631h1M352 632h1M360 632h1M374 632h1M378 632h1M362 633h1M359 634h1M370 634h1M377 634h1M331 635h1M367 635h1M374 635h1M380 635h1M352 636h1M319 637h1M330 637h1M330 639h1M346 639h1M354 639h1M376 641h1M381 641h1M347 642h1M359 642h1M370 642h1M347 643h1M317 644h1M320 644h1M325 644h1" stroke="#555" stroke-width="1" fill="none"/><path d="M310 575.5H395.5V646" fill="none" stroke="#000" stroke-width="1.1"/><line x1="310.00" y1="575.00" x2="310.00" y2="647.00" stroke="#000" stroke-width="2" /><line x1="309.00" y1="646.00" x2="396.00" y2="646.00" stroke="#000" stroke-width="2" /><path d="M306.0 646.0H310M307.4 640.7H310M307.4 637.6H310M307.4 635.4H310M307.4 633.7H310M307.4 632.3H310M307.4 631.1H310M307.4 630.1H310M307.4 629.2H310M306.0 628.4H310M307.4 623.1H310M307.4 620.0H310M307.4 617.8H310M307.4 616.1H310M307.4 614.7H310M307.4 613.5H310M307.4 612.5H310M307.4 611.6H310M306.0 610.8H310M307.4 605.4H310M307.4 602.3H310M307.4 600.1H310M307.4 598.4H310M307.4 597.0H310M307.4 595.9H310M307.4 594.8H310M307.4 593.9H310M306.0 593.1H310M307.4 587.8H310M307.4 584.7H310M307.4 582.5H310M307.4 580.8H310M307.4 579.4H310M307.4 578.2H310M307.4 577.2H310M307.4 576.3H310M306 575.5H310M310.0 646V650.0M316.4 646V648.6M320.2 646V648.6M322.9 646V648.6M324.9 646V648.6M326.6 646V648.6M328.1 646V648.6M329.3 646V648.6M330.4 646V648.6M331.4 646V650.0M337.8 646V648.6M341.6 646V648.6M344.2 646V648.6M346.3 646V648.6M348.0 646V648.6M349.4 646V648.6M350.7 646V648.6M351.8 646V648.6M352.8 646V650.0M359.2 646V648.6M362.9 646V648.6M365.6 646V648.6M367.7 646V648.6M369.4 646V648.6M370.8 646V648.6M372.1 646V648.6M373.1 646V648.6M374.1 646V650.0M380.6 646V648.6M384.3 646V648.6M387.0 646V648.6M389.1 646V648.6M390.8 646V648.6M392.2 646V648.6M393.4 646V648.6M394.5 646V648.6M395.5 646V650" stroke="#000" stroke-width="1.1" fill="none"/><line x1="343.50" y1="576.40" x2="343.50" y2="644.80" stroke="#000" stroke-width="1.2" stroke-dasharray="4.3 3.3"/><line x1="311.00" y1="619.50" x2="394.90" y2="619.50" stroke="#000" stroke-width="1.2" stroke-dasharray="4.3 3.3"/><line x1="316.50" y1="578.80" x2="316.50" y2="601.90" stroke="#444" stroke-width="1.1" /><line x1="311.80" y1="591.50" x2="341.80" y2="591.50" stroke="#444" stroke-width="1.1" /><text x="337.7" y="589.5" font-family="'Liberation Serif', serif" font-size="12" font-weight="bold" text-anchor="end" fill="#000" >1.5</text><text x="337.7" y="603" font-family="'Liberation Serif', serif" font-size="12" font-weight="bold" text-anchor="end" fill="#000" >3.9</text><text x="305.6" y="660.1" font-family="'Liberation Sans', sans-serif" font-size="10" fill="#000" textLength="8.1" lengthAdjust="spacingAndGlyphs">10</text><text x="314.8" y="654.7" font-family="'Liberation Sans', sans-serif" font-size="8" fill="#000" textLength="4.5" lengthAdjust="spacingAndGlyphs">0</text><text x="326.4" y="660.1" font-family="'Liberation Sans', sans-serif" font-size="10" fill="#000" textLength="8.1" lengthAdjust="spacingAndGlyphs">10</text><text x="335.6" y="654.7" font-family="'Liberation Sans', sans-serif" font-size="8" fill="#000" textLength="4.5" lengthAdjust="spacingAndGlyphs">1</text><text x="347.2" y="660.1" font-family="'Liberation Sans', sans-serif" font-size="10" fill="#000" textLength="8.1" lengthAdjust="spacingAndGlyphs">10</text><text x="356.4" y="654.7" font-family="'Liberation Sans', sans-serif" font-size="8" fill="#000" textLength="4.5" lengthAdjust="spacingAndGlyphs">2</text><text x="367.9" y="660.1" font-family="'Liberation Sans', sans-serif" font-size="10" fill="#000" textLength="8.1" lengthAdjust="spacingAndGlyphs">10</text><text x="377.1" y="654.7" font-family="'Liberation Sans', sans-serif" font-size="8" fill="#000" textLength="4.5" lengthAdjust="spacingAndGlyphs">3</text><text x="388.7" y="660.1" font-family="'Liberation Sans', sans-serif" font-size="10" fill="#000" textLength="8.1" lengthAdjust="spacingAndGlyphs">10</text><text x="397.9" y="654.7" font-family="'Liberation Sans', sans-serif" font-size="8" fill="#000" textLength="4.5" lengthAdjust="spacingAndGlyphs">4</text><g transform="translate(303.8,581.6) rotate(-90)"><text x="0" y="0" font-family="'Liberation Sans', sans-serif" font-size="9" fill="#000" textLength="6.5" lengthAdjust="spacingAndGlyphs">10</text><text x="8.7" y="-5.0" font-family="'Liberation Sans', sans-serif" font-size="8" fill="#000" textLength="4" lengthAdjust="spacingAndGlyphs">4</text></g><g transform="translate(303.8,650.8) rotate(-90)"><text x="0" y="0" font-family="'Liberation Sans', sans-serif" font-size="9" fill="#000" textLength="6.5" lengthAdjust="spacingAndGlyphs">10</text><text x="8.7" y="-5.0" font-family="'Liberation Sans', sans-serif" font-size="8" fill="#000" textLength="4" lengthAdjust="spacingAndGlyphs">0</text></g><path transform="translate(0 .5)" d="M435 627h2M436 628h1M432 630h1M434 630h2M432 631h2M432 632h1M434 632h3M438 632h3M430 633h1M434 633h6M465 633h2M429 634h7M438 634h4M465 634h1M429 635h3M433 635h9M428 636h12M441 636h1M429 637h9M479 637h1M428 638h9M438 638h1M427 639h9M437 639h2M428 640h5M434 640h1M436 640h3M427 641h1M429 641h2M432 641h3M436 641h3M428 642h7M436 642h2M428 643h1M433 643h2M436 643h1M432 644h3" stroke="#000" stroke-width="1" fill="none"/><path transform="translate(0 .5)" d="M476 603h1M485 603h1M483 605h1M479 608h1M488 608h1M479 610h1M482 610h1M479 611h1M440 627h1M438 628h1M442 628h1M474 628h1M440 629h1M474 629h1M486 629h1M489 629h2M430 630h1M436 630h1M439 630h1M442 630h1M469 630h1M478 630h1M471 631h1M476 631h1M430 632h1M441 632h1M443 632h1M477 632h1M481 632h1M428 633h1M474 633h1M443 634h2M469 634h1M474 634h1M476 635h1M443 636h1M465 636h1M471 636h1M478 636h1M426 637h1M480 637h1M482 637h1M489 638h1M492 638h1M442 639h1M480 639h2M492 639h1M424 640h1M465 640h1M476 640h1M488 640h1M424 642h1M426 642h1M467 642h1M475 642h1M426 644h1M430 644h1M437 644h1" stroke="#555" stroke-width="1" fill="none"/><path d="M422 575.5H506.5V646" fill="none" stroke="#000" stroke-width="1.1"/><line x1="422.00" y1="575.00" x2="422.00" y2="647.00" stroke="#000" stroke-width="2" /><line x1="421.00" y1="646.00" x2="507.00" y2="646.00" stroke="#000" stroke-width="2" /><path d="M418.0 646.0H422M419.4 640.7H422M419.4 637.6H422M419.4 635.4H422M419.4 633.7H422M419.4 632.3H422M419.4 631.1H422M419.4 630.1H422M419.4 629.2H422M418.0 628.4H422M419.4 623.1H422M419.4 620.0H422M419.4 617.8H422M419.4 616.1H422M419.4 614.7H422M419.4 613.5H422M419.4 612.5H422M419.4 611.6H422M418.0 610.8H422M419.4 605.4H422M419.4 602.3H422M419.4 600.1H422M419.4 598.4H422M419.4 597.0H422M419.4 595.9H422M419.4 594.8H422M419.4 593.9H422M418.0 593.1H422M419.4 587.8H422M419.4 584.7H422M419.4 582.5H422M419.4 580.8H422M419.4 579.4H422M419.4 578.2H422M419.4 577.2H422M419.4 576.3H422M418 575.5H422M422.0 646V650.0M428.4 646V648.6M432.1 646V648.6M434.7 646V648.6M436.8 646V648.6M438.4 646V648.6M439.9 646V648.6M441.1 646V648.6M442.2 646V648.6M443.1 646V650.0M449.5 646V648.6M453.2 646V648.6M455.8 646V648.6M457.9 646V648.6M459.6 646V648.6M461.0 646V648.6M462.2 646V648.6M463.3 646V648.6M464.2 646V650.0M470.6 646V648.6M474.3 646V648.6M477.0 646V648.6M479.0 646V648.6M480.7 646V648.6M482.1 646V648.6M483.3 646V648.6M484.4 646V648.6M485.4 646V650.0M491.7 646V648.6M495.5 646V648.6M498.1 646V648.6M500.1 646V648.6M501.8 646V648.6M503.2 646V648.6M504.5 646V648.6M505.5 646V648.6M506.5 646V650" stroke="#000" stroke-width="1.1" fill="none"/><line x1="455.50" y1="576.80" x2="455.50" y2="644.50" stroke="#000" stroke-width="1.2" stroke-dasharray="4.3 3.3"/><line x1="422.90" y1="621.50" x2="505.00" y2="621.50" stroke="#000" stroke-width="1.2" stroke-dasharray="4.3 3.3"/><line x1="428.50" y1="579.00" x2="428.50" y2="602.30" stroke="#444" stroke-width="1.1" /><line x1="423.40" y1="591.50" x2="453.20" y2="591.50" stroke="#444" stroke-width="1.1" /><text x="447.9" y="590.7" font-family="'Liberation Serif', serif" font-size="12" font-weight="bold" text-anchor="end" fill="#000" >1.7</text><text x="447.9" y="603.5" font-family="'Liberation Serif', serif" font-size="12" font-weight="bold" text-anchor="end" fill="#000" >4.3</text><text x="417.4" y="660.1" font-family="'Liberation Sans', sans-serif" font-size="10" fill="#000" textLength="8.1" lengthAdjust="spacingAndGlyphs">10</text><text x="426.6" y="654.7" font-family="'Liberation Sans', sans-serif" font-size="8" fill="#000" textLength="4.5" lengthAdjust="spacingAndGlyphs">0</text><text x="437.7" y="660.1" font-family="'Liberation Sans', sans-serif" font-size="10" fill="#000" textLength="8.1" lengthAdjust="spacingAndGlyphs">10</text><text x="446.9" y="654.7" font-family="'Liberation Sans', sans-serif" font-size="8" fill="#000" textLength="4.5" lengthAdjust="spacingAndGlyphs">1</text><text x="458.1" y="660.1" font-family="'Liberation Sans', sans-serif" font-size="10" fill="#000" textLength="8.1" lengthAdjust="spacingAndGlyphs">10</text><text x="467.2" y="654.7" font-family="'Liberation Sans', sans-serif" font-size="8" fill="#000" textLength="4.5" lengthAdjust="spacingAndGlyphs">2</text><text x="478.4" y="660.1" font-family="'Liberation Sans', sans-serif" font-size="10" fill="#000" textLength="8.1" lengthAdjust="spacingAndGlyphs">10</text><text x="487.6" y="654.7" font-family="'Liberation Sans', sans-serif" font-size="8" fill="#000" textLength="4.5" lengthAdjust="spacingAndGlyphs">3</text><text x="498.7" y="660.1" font-family="'Liberation Sans', sans-serif" font-size="10" fill="#000" textLength="8.1" lengthAdjust="spacingAndGlyphs">10</text><text x="507.9" y="654.7" font-family="'Liberation Sans', sans-serif" font-size="8" fill="#000" textLength="4.5" lengthAdjust="spacingAndGlyphs">4</text><g transform="translate(415.7,582.0) rotate(-90)"><text x="0" y="0" font-family="'Liberation Sans', sans-serif" font-size="9" fill="#000" textLength="6.5" lengthAdjust="spacingAndGlyphs">10</text><text x="8.7" y="-5.0" font-family="'Liberation Sans', sans-serif" font-size="8" fill="#000" textLength="4" lengthAdjust="spacingAndGlyphs">4</text></g><g transform="translate(415.7,650.5) rotate(-90)"><text x="0" y="0" font-family="'Liberation Sans', sans-serif" font-size="9" fill="#000" textLength="6.5" lengthAdjust="spacingAndGlyphs">10</text><text x="8.7" y="-5.0" font-family="'Liberation Sans', sans-serif" font-size="8" fill="#000" textLength="4" lengthAdjust="spacingAndGlyphs">0</text></g><text x="273.5" y="431.7" font-family="'Liberation Serif', serif" font-size="13" font-weight="bold" text-anchor="middle" fill="#000" >30 min</text><text x="272.2" y="522" font-family="'Liberation Serif', serif" font-size="13" font-weight="bold" text-anchor="middle" fill="#000" >6 h</text><text x="273" y="615.7" font-family="'Liberation Serif', serif" font-size="13" font-weight="bold" text-anchor="middle" fill="#000" >24 h</text><g stroke="#222" stroke-width="1.2" fill="none"><path d="M6.7 469.5V389.5"/><path d="M3.4 395L6.7 389.3L10 395"/><path d="M7.2 588.8V669.8H90.6"/><path d="M198.8 670.8H279.5"/><path d="M274.3 668L279.6 670.8L274.3 673.6"/></g><text transform="translate(20.2,573.5) rotate(-90)" font-family="'Liberation Serif', serif" font-size="13" font-weight="bold">Propidium iodide</text><text x="96.3" y="674.6" font-family="'Liberation Serif', serif" font-size="13.4" font-weight="bold" text-anchor="start" fill="#000" >Annexin V-FITC</text><text transform="translate(9.4,210.6) rotate(-90)" font-family="'Liberation Serif', serif" font-size="13.3" font-weight="bold">Annexin V positive cells (%)</text></svg></body></html>
